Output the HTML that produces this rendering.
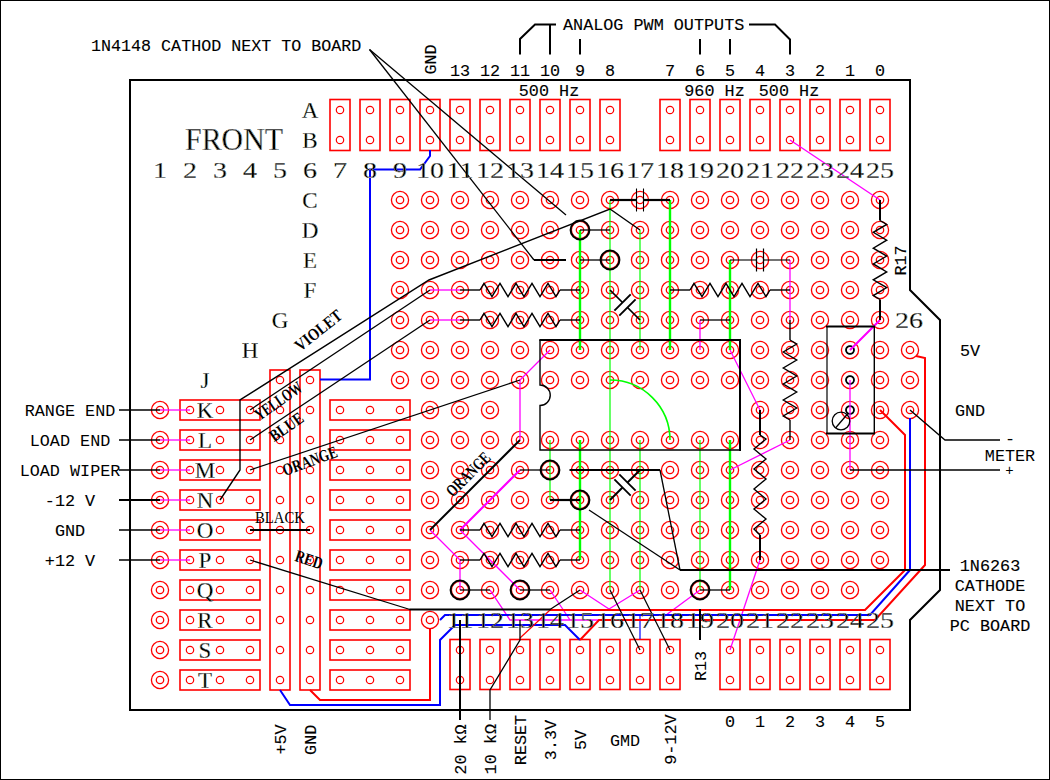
<!DOCTYPE html>
<html><head><meta charset="utf-8"><style>
html,body{margin:0;padding:0;background:#fff;overflow:hidden;}
svg{display:block;}
.p{fill:none;stroke:#ff0000;stroke-width:1.3;}
.s{fill:none;stroke:#ff0000;stroke-width:1.2;}
.hr{fill:none;stroke:#ff0000;stroke-width:1.6;}
text{fill:#000;}

</style></head><body>
<svg width="1050" height="780" viewBox="0 0 1050 780">
<rect x="0.5" y="0.5" width="1049" height="779" fill="#fff" stroke="#000" stroke-width="1"/>
<defs><clipPath id="tc"><text x="185" y="150" font-family="Liberation Serif" font-size="32" text-anchor="start" textLength="98" lengthAdjust="spacingAndGlyphs">FRONT</text>
<text x="310" y="118" font-family="Liberation Serif" font-size="23" text-anchor="middle">A</text>
<text x="310" y="148" font-family="Liberation Serif" font-size="23" text-anchor="middle">B</text>
<text x="310" y="208" font-family="Liberation Serif" font-size="23" text-anchor="middle">C</text>
<text x="310" y="238" font-family="Liberation Serif" font-size="23" text-anchor="middle">D</text>
<text x="310" y="268" font-family="Liberation Serif" font-size="23" text-anchor="middle">E</text>
<text x="310" y="298" font-family="Liberation Serif" font-size="23" text-anchor="middle">F</text>
<text x="280" y="328" font-family="Liberation Serif" font-size="23" text-anchor="middle">G</text>
<text x="250" y="358" font-family="Liberation Serif" font-size="23" text-anchor="middle">H</text>
<text x="205" y="388" font-family="Liberation Serif" font-size="23" text-anchor="middle">J</text>
<text x="205" y="418" font-family="Liberation Serif" font-size="23" text-anchor="middle">K</text>
<text x="205" y="448" font-family="Liberation Serif" font-size="23" text-anchor="middle">L</text>
<text x="205" y="478" font-family="Liberation Serif" font-size="23" text-anchor="middle">M</text>
<text x="205" y="508" font-family="Liberation Serif" font-size="23" text-anchor="middle">N</text>
<text x="205" y="538" font-family="Liberation Serif" font-size="23" text-anchor="middle">O</text>
<text x="205" y="568" font-family="Liberation Serif" font-size="23" text-anchor="middle">P</text>
<text x="205" y="598" font-family="Liberation Serif" font-size="23" text-anchor="middle">Q</text>
<text x="205" y="628" font-family="Liberation Serif" font-size="23" text-anchor="middle">R</text>
<text x="205" y="658" font-family="Liberation Serif" font-size="23" text-anchor="middle">S</text>
<text x="205" y="688" font-family="Liberation Serif" font-size="23" text-anchor="middle">T</text>
<text transform="translate(160 178) scale(1.17 1)" x="0" y="0" font-family="Liberation Serif" font-size="24" text-anchor="middle">1</text>
<text transform="translate(190 178) scale(1.17 1)" x="0" y="0" font-family="Liberation Serif" font-size="24" text-anchor="middle">2</text>
<text transform="translate(220 178) scale(1.17 1)" x="0" y="0" font-family="Liberation Serif" font-size="24" text-anchor="middle">3</text>
<text transform="translate(250 178) scale(1.17 1)" x="0" y="0" font-family="Liberation Serif" font-size="24" text-anchor="middle">4</text>
<text transform="translate(280 178) scale(1.17 1)" x="0" y="0" font-family="Liberation Serif" font-size="24" text-anchor="middle">5</text>
<text transform="translate(310 178) scale(1.17 1)" x="0" y="0" font-family="Liberation Serif" font-size="24" text-anchor="middle">6</text>
<text transform="translate(340 178) scale(1.17 1)" x="0" y="0" font-family="Liberation Serif" font-size="24" text-anchor="middle">7</text>
<text transform="translate(370 178) scale(1.17 1)" x="0" y="0" font-family="Liberation Serif" font-size="24" text-anchor="middle">8</text>
<text transform="translate(400 178) scale(1.17 1)" x="0" y="0" font-family="Liberation Serif" font-size="24" text-anchor="middle">9</text>
<text transform="translate(430 178) scale(1.17 1)" x="0" y="0" font-family="Liberation Serif" font-size="24" text-anchor="middle">10</text>
<text transform="translate(460 178) scale(1.17 1)" x="0" y="0" font-family="Liberation Serif" font-size="24" text-anchor="middle">11</text>
<text transform="translate(490 178) scale(1.17 1)" x="0" y="0" font-family="Liberation Serif" font-size="24" text-anchor="middle">12</text>
<text transform="translate(520 178) scale(1.17 1)" x="0" y="0" font-family="Liberation Serif" font-size="24" text-anchor="middle">13</text>
<text transform="translate(550 178) scale(1.17 1)" x="0" y="0" font-family="Liberation Serif" font-size="24" text-anchor="middle">14</text>
<text transform="translate(580 178) scale(1.17 1)" x="0" y="0" font-family="Liberation Serif" font-size="24" text-anchor="middle">15</text>
<text transform="translate(610 178) scale(1.17 1)" x="0" y="0" font-family="Liberation Serif" font-size="24" text-anchor="middle">16</text>
<text transform="translate(640 178) scale(1.17 1)" x="0" y="0" font-family="Liberation Serif" font-size="24" text-anchor="middle">17</text>
<text transform="translate(670 178) scale(1.17 1)" x="0" y="0" font-family="Liberation Serif" font-size="24" text-anchor="middle">18</text>
<text transform="translate(700 178) scale(1.17 1)" x="0" y="0" font-family="Liberation Serif" font-size="24" text-anchor="middle">19</text>
<text transform="translate(730 178) scale(1.17 1)" x="0" y="0" font-family="Liberation Serif" font-size="24" text-anchor="middle">20</text>
<text transform="translate(760 178) scale(1.17 1)" x="0" y="0" font-family="Liberation Serif" font-size="24" text-anchor="middle">21</text>
<text transform="translate(790 178) scale(1.17 1)" x="0" y="0" font-family="Liberation Serif" font-size="24" text-anchor="middle">22</text>
<text transform="translate(820 178) scale(1.17 1)" x="0" y="0" font-family="Liberation Serif" font-size="24" text-anchor="middle">23</text>
<text transform="translate(850 178) scale(1.17 1)" x="0" y="0" font-family="Liberation Serif" font-size="24" text-anchor="middle">24</text>
<text transform="translate(880 178) scale(1.17 1)" x="0" y="0" font-family="Liberation Serif" font-size="24" text-anchor="middle">25</text>
<text transform="translate(460 628) scale(1.17 1)" x="0" y="0" font-family="Liberation Serif" font-size="24" text-anchor="middle">11</text>
<text transform="translate(490 628) scale(1.17 1)" x="0" y="0" font-family="Liberation Serif" font-size="24" text-anchor="middle">12</text>
<text transform="translate(520 628) scale(1.17 1)" x="0" y="0" font-family="Liberation Serif" font-size="24" text-anchor="middle">13</text>
<text transform="translate(550 628) scale(1.17 1)" x="0" y="0" font-family="Liberation Serif" font-size="24" text-anchor="middle">14</text>
<text transform="translate(580 628) scale(1.17 1)" x="0" y="0" font-family="Liberation Serif" font-size="24" text-anchor="middle">15</text>
<text transform="translate(610 628) scale(1.17 1)" x="0" y="0" font-family="Liberation Serif" font-size="24" text-anchor="middle">16</text>
<text transform="translate(640 628) scale(1.17 1)" x="0" y="0" font-family="Liberation Serif" font-size="24" text-anchor="middle">17</text>
<text transform="translate(670 628) scale(1.17 1)" x="0" y="0" font-family="Liberation Serif" font-size="24" text-anchor="middle">18</text>
<text transform="translate(700 628) scale(1.17 1)" x="0" y="0" font-family="Liberation Serif" font-size="24" text-anchor="middle">19</text>
<text transform="translate(730 628) scale(1.17 1)" x="0" y="0" font-family="Liberation Serif" font-size="24" text-anchor="middle">20</text>
<text transform="translate(760 628) scale(1.17 1)" x="0" y="0" font-family="Liberation Serif" font-size="24" text-anchor="middle">21</text>
<text transform="translate(790 628) scale(1.17 1)" x="0" y="0" font-family="Liberation Serif" font-size="24" text-anchor="middle">22</text>
<text transform="translate(820 628) scale(1.17 1)" x="0" y="0" font-family="Liberation Serif" font-size="24" text-anchor="middle">23</text>
<text transform="translate(850 628) scale(1.17 1)" x="0" y="0" font-family="Liberation Serif" font-size="24" text-anchor="middle">24</text>
<text transform="translate(880 628) scale(1.17 1)" x="0" y="0" font-family="Liberation Serif" font-size="24" text-anchor="middle">25</text>
<text transform="translate(909 327.5) scale(1.17 1)" x="0" y="0" font-family="Liberation Serif" font-size="24" text-anchor="middle">26</text></clipPath></defs>
<g id="pads">
<circle cx="400" cy="200" r="8.6" class="p"/><circle cx="400" cy="200" r="3.7" class="p" style="stroke:#ff0000"/>
<circle cx="430" cy="200" r="8.6" class="p"/><circle cx="430" cy="200" r="3.7" class="p" style="stroke:#ff0000"/>
<circle cx="460" cy="200" r="8.6" class="p"/><circle cx="460" cy="200" r="3.7" class="p" style="stroke:#ff0000"/>
<circle cx="490" cy="200" r="8.6" class="p"/><circle cx="490" cy="200" r="3.7" class="p" style="stroke:#ff0000"/>
<circle cx="520" cy="200" r="8.6" class="p"/><circle cx="520" cy="200" r="3.7" class="p" style="stroke:#ff0000"/>
<circle cx="550" cy="200" r="8.6" class="p"/><circle cx="550" cy="200" r="3.7" class="p" style="stroke:#ff0000"/>
<circle cx="580" cy="200" r="8.6" class="p"/><circle cx="580" cy="200" r="3.7" class="p" style="stroke:#ff0000"/>
<circle cx="610" cy="200" r="8.6" class="p"/><circle cx="610" cy="200" r="3.7" class="p" style="stroke:#ff0000"/>
<circle cx="640" cy="200" r="8.6" class="p"/><circle cx="640" cy="200" r="3.7" class="p" style="stroke:#ff0000"/>
<circle cx="670" cy="200" r="8.6" class="p"/><circle cx="670" cy="200" r="3.7" class="p" style="stroke:#ff0000"/>
<circle cx="700" cy="200" r="8.6" class="p"/><circle cx="700" cy="200" r="3.7" class="p" style="stroke:#ff0000"/>
<circle cx="730" cy="200" r="8.6" class="p"/><circle cx="730" cy="200" r="3.7" class="p" style="stroke:#ff0000"/>
<circle cx="760" cy="200" r="8.6" class="p"/><circle cx="760" cy="200" r="3.7" class="p" style="stroke:#ff0000"/>
<circle cx="790" cy="200" r="8.6" class="p"/><circle cx="790" cy="200" r="3.7" class="p" style="stroke:#ff0000"/>
<circle cx="820" cy="200" r="8.6" class="p"/><circle cx="820" cy="200" r="3.7" class="p" style="stroke:#ff0000"/>
<circle cx="850" cy="200" r="8.6" class="p"/><circle cx="850" cy="200" r="3.7" class="p" style="stroke:#ff0000"/>
<circle cx="880" cy="200" r="8.6" class="p"/><circle cx="880" cy="200" r="3.7" class="p" style="stroke:#ff0000"/>
<circle cx="400" cy="230" r="8.6" class="p"/><circle cx="400" cy="230" r="3.7" class="p" style="stroke:#ff0000"/>
<circle cx="430" cy="230" r="8.6" class="p"/><circle cx="430" cy="230" r="3.7" class="p" style="stroke:#ff0000"/>
<circle cx="460" cy="230" r="8.6" class="p"/><circle cx="460" cy="230" r="3.7" class="p" style="stroke:#ff0000"/>
<circle cx="490" cy="230" r="8.6" class="p"/><circle cx="490" cy="230" r="3.7" class="p" style="stroke:#ff0000"/>
<circle cx="520" cy="230" r="8.6" class="p"/><circle cx="520" cy="230" r="3.7" class="p" style="stroke:#ff0000"/>
<circle cx="550" cy="230" r="8.6" class="p"/><circle cx="550" cy="230" r="3.7" class="p" style="stroke:#ff0000"/>
<circle cx="580" cy="230" r="8.6" class="p"/><circle cx="580" cy="230" r="3.7" class="p" style="stroke:#ff0000"/>
<circle cx="610" cy="230" r="8.6" class="p"/><circle cx="610" cy="230" r="3.7" class="p" style="stroke:#ff0000"/>
<circle cx="640" cy="230" r="8.6" class="p"/><circle cx="640" cy="230" r="3.7" class="p" style="stroke:#ff0000"/>
<circle cx="670" cy="230" r="8.6" class="p"/><circle cx="670" cy="230" r="3.7" class="p" style="stroke:#ff0000"/>
<circle cx="700" cy="230" r="8.6" class="p"/><circle cx="700" cy="230" r="3.7" class="p" style="stroke:#ff0000"/>
<circle cx="730" cy="230" r="8.6" class="p"/><circle cx="730" cy="230" r="3.7" class="p" style="stroke:#ff0000"/>
<circle cx="760" cy="230" r="8.6" class="p"/><circle cx="760" cy="230" r="3.7" class="p" style="stroke:#ff0000"/>
<circle cx="790" cy="230" r="8.6" class="p"/><circle cx="790" cy="230" r="3.7" class="p" style="stroke:#ff0000"/>
<circle cx="820" cy="230" r="8.6" class="p"/><circle cx="820" cy="230" r="3.7" class="p" style="stroke:#ff0000"/>
<circle cx="850" cy="230" r="8.6" class="p"/><circle cx="850" cy="230" r="3.7" class="p" style="stroke:#ff0000"/>
<circle cx="880" cy="230" r="8.6" class="p"/><circle cx="880" cy="230" r="3.7" class="p" style="stroke:#ff0000"/>
<circle cx="400" cy="260" r="8.6" class="p"/><circle cx="400" cy="260" r="3.7" class="p" style="stroke:#ff0000"/>
<circle cx="430" cy="260" r="8.6" class="p"/><circle cx="430" cy="260" r="3.7" class="p" style="stroke:#ff0000"/>
<circle cx="460" cy="260" r="8.6" class="p"/><circle cx="460" cy="260" r="3.7" class="p" style="stroke:#ff0000"/>
<circle cx="490" cy="260" r="8.6" class="p"/><circle cx="490" cy="260" r="3.7" class="p" style="stroke:#ff0000"/>
<circle cx="520" cy="260" r="8.6" class="p"/><circle cx="520" cy="260" r="3.7" class="p" style="stroke:#ff0000"/>
<circle cx="550" cy="260" r="8.6" class="p"/><circle cx="550" cy="260" r="3.7" class="p" style="stroke:#ff0000"/>
<circle cx="580" cy="260" r="8.6" class="p"/><circle cx="580" cy="260" r="3.7" class="p" style="stroke:#ff0000"/>
<circle cx="610" cy="260" r="8.6" class="p"/><circle cx="610" cy="260" r="3.7" class="p" style="stroke:#ff0000"/>
<circle cx="640" cy="260" r="8.6" class="p"/><circle cx="640" cy="260" r="3.7" class="p" style="stroke:#ff0000"/>
<circle cx="670" cy="260" r="8.6" class="p"/><circle cx="670" cy="260" r="3.7" class="p" style="stroke:#ff0000"/>
<circle cx="700" cy="260" r="8.6" class="p"/><circle cx="700" cy="260" r="3.7" class="p" style="stroke:#ff0000"/>
<circle cx="730" cy="260" r="8.6" class="p"/><circle cx="730" cy="260" r="3.7" class="p" style="stroke:#ff0000"/>
<circle cx="760" cy="260" r="8.6" class="p"/><circle cx="760" cy="260" r="3.7" class="p" style="stroke:#ff0000"/>
<circle cx="790" cy="260" r="8.6" class="p"/><circle cx="790" cy="260" r="3.7" class="p" style="stroke:#ff0000"/>
<circle cx="820" cy="260" r="8.6" class="p"/><circle cx="820" cy="260" r="3.7" class="p" style="stroke:#ff0000"/>
<circle cx="850" cy="260" r="8.6" class="p"/><circle cx="850" cy="260" r="3.7" class="p" style="stroke:#ff0000"/>
<circle cx="880" cy="260" r="8.6" class="p"/><circle cx="880" cy="260" r="3.7" class="p" style="stroke:#ff0000"/>
<circle cx="400" cy="290" r="8.6" class="p"/><circle cx="400" cy="290" r="3.7" class="p" style="stroke:#ff0000"/>
<circle cx="430" cy="290" r="8.6" class="p"/><circle cx="430" cy="290" r="3.7" class="p" style="stroke:#ff0000"/>
<circle cx="460" cy="290" r="8.6" class="p"/><circle cx="460" cy="290" r="3.7" class="p" style="stroke:#ff0000"/>
<circle cx="490" cy="290" r="8.6" class="p"/><circle cx="490" cy="290" r="3.7" class="p" style="stroke:#ff0000"/>
<circle cx="520" cy="290" r="8.6" class="p"/><circle cx="520" cy="290" r="3.7" class="p" style="stroke:#ff0000"/>
<circle cx="550" cy="290" r="8.6" class="p"/><circle cx="550" cy="290" r="3.7" class="p" style="stroke:#ff0000"/>
<circle cx="580" cy="290" r="8.6" class="p"/><circle cx="580" cy="290" r="3.7" class="p" style="stroke:#ff0000"/>
<circle cx="610" cy="290" r="8.6" class="p"/><circle cx="610" cy="290" r="3.7" class="p" style="stroke:#ff0000"/>
<circle cx="640" cy="290" r="8.6" class="p"/><circle cx="640" cy="290" r="3.7" class="p" style="stroke:#ff0000"/>
<circle cx="670" cy="290" r="8.6" class="p"/><circle cx="670" cy="290" r="3.7" class="p" style="stroke:#ff0000"/>
<circle cx="700" cy="290" r="8.6" class="p"/><circle cx="700" cy="290" r="3.7" class="p" style="stroke:#ff0000"/>
<circle cx="730" cy="290" r="8.6" class="p"/><circle cx="730" cy="290" r="3.7" class="p" style="stroke:#ff0000"/>
<circle cx="760" cy="290" r="8.6" class="p"/><circle cx="760" cy="290" r="3.7" class="p" style="stroke:#ff0000"/>
<circle cx="790" cy="290" r="8.6" class="p"/><circle cx="790" cy="290" r="3.7" class="p" style="stroke:#ff0000"/>
<circle cx="820" cy="290" r="8.6" class="p"/><circle cx="820" cy="290" r="3.7" class="p" style="stroke:#ff0000"/>
<circle cx="850" cy="290" r="8.6" class="p"/><circle cx="850" cy="290" r="3.7" class="p" style="stroke:#ff0000"/>
<circle cx="880" cy="290" r="8.6" class="p"/><circle cx="880" cy="290" r="3.7" class="p" style="stroke:#ff0000"/>
<circle cx="400" cy="320" r="8.6" class="p"/><circle cx="400" cy="320" r="3.7" class="p" style="stroke:#ff0000"/>
<circle cx="430" cy="320" r="8.6" class="p"/><circle cx="430" cy="320" r="3.7" class="p" style="stroke:#ff0000"/>
<circle cx="460" cy="320" r="8.6" class="p"/><circle cx="460" cy="320" r="3.7" class="p" style="stroke:#ff0000"/>
<circle cx="490" cy="320" r="8.6" class="p"/><circle cx="490" cy="320" r="3.7" class="p" style="stroke:#ff0000"/>
<circle cx="520" cy="320" r="8.6" class="p"/><circle cx="520" cy="320" r="3.7" class="p" style="stroke:#ff0000"/>
<circle cx="550" cy="320" r="8.6" class="p"/><circle cx="550" cy="320" r="3.7" class="p" style="stroke:#ff0000"/>
<circle cx="580" cy="320" r="8.6" class="p"/><circle cx="580" cy="320" r="3.7" class="p" style="stroke:#ff0000"/>
<circle cx="610" cy="320" r="8.6" class="p"/><circle cx="610" cy="320" r="3.7" class="p" style="stroke:#ff0000"/>
<circle cx="640" cy="320" r="8.6" class="p"/><circle cx="640" cy="320" r="3.7" class="p" style="stroke:#ff0000"/>
<circle cx="670" cy="320" r="8.6" class="p"/><circle cx="670" cy="320" r="3.7" class="p" style="stroke:#ff0000"/>
<circle cx="700" cy="320" r="8.6" class="p"/><circle cx="700" cy="320" r="3.7" class="p" style="stroke:#ff0000"/>
<circle cx="730" cy="320" r="8.6" class="p"/><circle cx="730" cy="320" r="3.7" class="p" style="stroke:#ff0000"/>
<circle cx="760" cy="320" r="8.6" class="p"/><circle cx="760" cy="320" r="3.7" class="p" style="stroke:#ff0000"/>
<circle cx="790" cy="320" r="8.6" class="p"/><circle cx="790" cy="320" r="3.7" class="p" style="stroke:#ff0000"/>
<circle cx="820" cy="320" r="8.6" class="p"/><circle cx="820" cy="320" r="3.7" class="p" style="stroke:#ff0000"/>
<circle cx="850" cy="320" r="8.6" class="p"/><circle cx="850" cy="320" r="3.7" class="p" style="stroke:#ff0000"/>
<circle cx="880" cy="320" r="8.6" class="p"/><circle cx="880" cy="320" r="3.7" class="p" style="stroke:#ff0000"/>
<circle cx="400" cy="350" r="8.6" class="p"/><circle cx="400" cy="350" r="3.7" class="p" style="stroke:#ff0000"/>
<circle cx="430" cy="350" r="8.6" class="p"/><circle cx="430" cy="350" r="3.7" class="p" style="stroke:#ff0000"/>
<circle cx="460" cy="350" r="8.6" class="p"/><circle cx="460" cy="350" r="3.7" class="p" style="stroke:#ff0000"/>
<circle cx="490" cy="350" r="8.6" class="p"/><circle cx="490" cy="350" r="3.7" class="p" style="stroke:#ff0000"/>
<circle cx="520" cy="350" r="8.6" class="p"/><circle cx="520" cy="350" r="3.7" class="p" style="stroke:#ff0000"/>
<circle cx="550" cy="350" r="8.6" class="p"/><circle cx="550" cy="350" r="3.7" class="p" style="stroke:#ff0000"/>
<circle cx="580" cy="350" r="8.6" class="p"/><circle cx="580" cy="350" r="3.7" class="p" style="stroke:#ff0000"/>
<circle cx="610" cy="350" r="8.6" class="p"/><circle cx="610" cy="350" r="3.7" class="p" style="stroke:#ff0000"/>
<circle cx="640" cy="350" r="8.6" class="p"/><circle cx="640" cy="350" r="3.7" class="p" style="stroke:#ff0000"/>
<circle cx="670" cy="350" r="8.6" class="p"/><circle cx="670" cy="350" r="3.7" class="p" style="stroke:#ff0000"/>
<circle cx="700" cy="350" r="8.6" class="p"/><circle cx="700" cy="350" r="3.7" class="p" style="stroke:#ff0000"/>
<circle cx="730" cy="350" r="8.6" class="p"/><circle cx="730" cy="350" r="3.7" class="p" style="stroke:#ff0000"/>
<circle cx="760" cy="350" r="8.6" class="p"/><circle cx="760" cy="350" r="3.7" class="p" style="stroke:#ff0000"/>
<circle cx="790" cy="350" r="8.6" class="p"/><circle cx="790" cy="350" r="3.7" class="p" style="stroke:#ff0000"/>
<circle cx="820" cy="350" r="8.6" class="p"/><circle cx="820" cy="350" r="3.7" class="p" style="stroke:#ff0000"/>
<circle cx="850" cy="350" r="8.6" class="p"/><circle cx="850" cy="350" r="3.7" class="p" style="stroke:#000000"/>
<circle cx="850" cy="350" r="4.1" fill="none" stroke="#000" stroke-width="1.5"/>
<circle cx="880" cy="350" r="8.6" class="p"/><circle cx="880" cy="350" r="3.7" class="p" style="stroke:#ff0000"/>
<circle cx="910" cy="350" r="8.6" class="p"/><circle cx="910" cy="350" r="3.7" class="p" style="stroke:#ff0000"/>
<circle cx="400" cy="380" r="8.6" class="p"/><circle cx="400" cy="380" r="3.7" class="p" style="stroke:#ff0000"/>
<circle cx="430" cy="380" r="8.6" class="p"/><circle cx="430" cy="380" r="3.7" class="p" style="stroke:#ff0000"/>
<circle cx="460" cy="380" r="8.6" class="p"/><circle cx="460" cy="380" r="3.7" class="p" style="stroke:#ff0000"/>
<circle cx="490" cy="380" r="8.6" class="p"/><circle cx="490" cy="380" r="3.7" class="p" style="stroke:#ff0000"/>
<circle cx="520" cy="380" r="8.6" class="p"/><circle cx="520" cy="380" r="3.7" class="p" style="stroke:#ff0000"/>
<circle cx="550" cy="380" r="8.6" class="p"/><circle cx="550" cy="380" r="3.7" class="p" style="stroke:#ff0000"/>
<circle cx="580" cy="380" r="8.6" class="p"/><circle cx="580" cy="380" r="3.7" class="p" style="stroke:#ff0000"/>
<circle cx="610" cy="380" r="8.6" class="p"/><circle cx="610" cy="380" r="3.7" class="p" style="stroke:#ff0000"/>
<circle cx="640" cy="380" r="8.6" class="p"/><circle cx="640" cy="380" r="3.7" class="p" style="stroke:#ff0000"/>
<circle cx="670" cy="380" r="8.6" class="p"/><circle cx="670" cy="380" r="3.7" class="p" style="stroke:#ff0000"/>
<circle cx="700" cy="380" r="8.6" class="p"/><circle cx="700" cy="380" r="3.7" class="p" style="stroke:#ff0000"/>
<circle cx="730" cy="380" r="8.6" class="p"/><circle cx="730" cy="380" r="3.7" class="p" style="stroke:#ff0000"/>
<circle cx="760" cy="380" r="8.6" class="p"/><circle cx="760" cy="380" r="3.7" class="p" style="stroke:#ff0000"/>
<circle cx="790" cy="380" r="8.6" class="p"/><circle cx="790" cy="380" r="3.7" class="p" style="stroke:#ff0000"/>
<circle cx="820" cy="380" r="8.6" class="p"/><circle cx="820" cy="380" r="3.7" class="p" style="stroke:#ff0000"/>
<circle cx="850" cy="380" r="8.6" class="p"/><circle cx="850" cy="380" r="3.7" class="p" style="stroke:#000000"/>
<circle cx="850" cy="380" r="4.1" fill="none" stroke="#000" stroke-width="1.5"/>
<circle cx="880" cy="380" r="8.6" class="p"/><circle cx="880" cy="380" r="3.7" class="p" style="stroke:#ff0000"/>
<circle cx="910" cy="380" r="8.6" class="p"/><circle cx="910" cy="380" r="3.7" class="p" style="stroke:#ff0000"/>
<circle cx="430" cy="410" r="8.6" class="p"/><circle cx="430" cy="410" r="3.7" class="p" style="stroke:#ff0000"/>
<circle cx="460" cy="410" r="8.6" class="p"/><circle cx="460" cy="410" r="3.7" class="p" style="stroke:#ff0000"/>
<circle cx="490" cy="410" r="8.6" class="p"/><circle cx="490" cy="410" r="3.7" class="p" style="stroke:#ff0000"/>
<circle cx="760" cy="410" r="8.6" class="p"/><circle cx="760" cy="410" r="3.7" class="p" style="stroke:#ff0000"/>
<circle cx="790" cy="410" r="8.6" class="p"/><circle cx="790" cy="410" r="3.7" class="p" style="stroke:#ff0000"/>
<circle cx="820" cy="410" r="8.6" class="p"/><circle cx="820" cy="410" r="3.7" class="p" style="stroke:#ff0000"/>
<circle cx="850" cy="410" r="8.6" class="p"/><circle cx="850" cy="410" r="3.7" class="p" style="stroke:#000000"/>
<circle cx="850" cy="410" r="4.1" fill="none" stroke="#000" stroke-width="1.5"/>
<circle cx="880" cy="410" r="8.6" class="p"/><circle cx="880" cy="410" r="3.7" class="p" style="stroke:#ff0000"/>
<circle cx="910" cy="410" r="8.6" class="p"/><circle cx="910" cy="410" r="3.7" class="p" style="stroke:#ff0000"/>
<circle cx="430" cy="440" r="8.6" class="p"/><circle cx="430" cy="440" r="3.7" class="p" style="stroke:#ff0000"/>
<circle cx="460" cy="440" r="8.6" class="p"/><circle cx="460" cy="440" r="3.7" class="p" style="stroke:#ff0000"/>
<circle cx="490" cy="440" r="8.6" class="p"/><circle cx="490" cy="440" r="3.7" class="p" style="stroke:#ff0000"/>
<circle cx="520" cy="440" r="8.6" class="p"/><circle cx="520" cy="440" r="3.7" class="p" style="stroke:#ff0000"/>
<circle cx="550" cy="440" r="8.6" class="p"/><circle cx="550" cy="440" r="3.7" class="p" style="stroke:#ff0000"/>
<circle cx="580" cy="440" r="8.6" class="p"/><circle cx="580" cy="440" r="3.7" class="p" style="stroke:#ff0000"/>
<circle cx="610" cy="440" r="8.6" class="p"/><circle cx="610" cy="440" r="3.7" class="p" style="stroke:#ff0000"/>
<circle cx="640" cy="440" r="8.6" class="p"/><circle cx="640" cy="440" r="3.7" class="p" style="stroke:#ff0000"/>
<circle cx="670" cy="440" r="8.6" class="p"/><circle cx="670" cy="440" r="3.7" class="p" style="stroke:#ff0000"/>
<circle cx="700" cy="440" r="8.6" class="p"/><circle cx="700" cy="440" r="3.7" class="p" style="stroke:#ff0000"/>
<circle cx="730" cy="440" r="8.6" class="p"/><circle cx="730" cy="440" r="3.7" class="p" style="stroke:#ff0000"/>
<circle cx="760" cy="440" r="8.6" class="p"/><circle cx="760" cy="440" r="3.7" class="p" style="stroke:#ff0000"/>
<circle cx="790" cy="440" r="8.6" class="p"/><circle cx="790" cy="440" r="3.7" class="p" style="stroke:#ff0000"/>
<circle cx="820" cy="440" r="8.6" class="p"/><circle cx="820" cy="440" r="3.7" class="p" style="stroke:#ff0000"/>
<circle cx="850" cy="440" r="8.6" class="p"/><circle cx="850" cy="440" r="3.7" class="p" style="stroke:#ff0000"/>
<circle cx="880" cy="440" r="8.6" class="p"/><circle cx="880" cy="440" r="3.7" class="p" style="stroke:#ff0000"/>
<circle cx="430" cy="470" r="8.6" class="p"/><circle cx="430" cy="470" r="3.7" class="p" style="stroke:#ff0000"/>
<circle cx="460" cy="470" r="8.6" class="p"/><circle cx="460" cy="470" r="3.7" class="p" style="stroke:#ff0000"/>
<circle cx="490" cy="470" r="8.6" class="p"/><circle cx="490" cy="470" r="3.7" class="p" style="stroke:#ff0000"/>
<circle cx="520" cy="470" r="8.6" class="p"/><circle cx="520" cy="470" r="3.7" class="p" style="stroke:#ff0000"/>
<circle cx="550" cy="470" r="8.6" class="p"/><circle cx="550" cy="470" r="3.7" class="p" style="stroke:#ff0000"/>
<circle cx="580" cy="470" r="8.6" class="p"/><circle cx="580" cy="470" r="3.7" class="p" style="stroke:#ff0000"/>
<circle cx="610" cy="470" r="8.6" class="p"/><circle cx="610" cy="470" r="3.7" class="p" style="stroke:#ff0000"/>
<circle cx="640" cy="470" r="8.6" class="p"/><circle cx="640" cy="470" r="3.7" class="p" style="stroke:#ff0000"/>
<circle cx="670" cy="470" r="8.6" class="p"/><circle cx="670" cy="470" r="3.7" class="p" style="stroke:#ff0000"/>
<circle cx="700" cy="470" r="8.6" class="p"/><circle cx="700" cy="470" r="3.7" class="p" style="stroke:#ff0000"/>
<circle cx="730" cy="470" r="8.6" class="p"/><circle cx="730" cy="470" r="3.7" class="p" style="stroke:#ff0000"/>
<circle cx="760" cy="470" r="8.6" class="p"/><circle cx="760" cy="470" r="3.7" class="p" style="stroke:#ff0000"/>
<circle cx="790" cy="470" r="8.6" class="p"/><circle cx="790" cy="470" r="3.7" class="p" style="stroke:#ff0000"/>
<circle cx="820" cy="470" r="8.6" class="p"/><circle cx="820" cy="470" r="3.7" class="p" style="stroke:#ff0000"/>
<circle cx="850" cy="470" r="8.6" class="p"/><circle cx="850" cy="470" r="3.7" class="p" style="stroke:#ff0000"/>
<circle cx="880" cy="470" r="8.6" class="p"/><circle cx="880" cy="470" r="3.7" class="p" style="stroke:#ff0000"/>
<circle cx="430" cy="500" r="8.6" class="p"/><circle cx="430" cy="500" r="3.7" class="p" style="stroke:#ff0000"/>
<circle cx="460" cy="500" r="8.6" class="p"/><circle cx="460" cy="500" r="3.7" class="p" style="stroke:#ff0000"/>
<circle cx="490" cy="500" r="8.6" class="p"/><circle cx="490" cy="500" r="3.7" class="p" style="stroke:#ff0000"/>
<circle cx="520" cy="500" r="8.6" class="p"/><circle cx="520" cy="500" r="3.7" class="p" style="stroke:#ff0000"/>
<circle cx="550" cy="500" r="8.6" class="p"/><circle cx="550" cy="500" r="3.7" class="p" style="stroke:#ff0000"/>
<circle cx="580" cy="500" r="8.6" class="p"/><circle cx="580" cy="500" r="3.7" class="p" style="stroke:#ff0000"/>
<circle cx="610" cy="500" r="8.6" class="p"/><circle cx="610" cy="500" r="3.7" class="p" style="stroke:#ff0000"/>
<circle cx="640" cy="500" r="8.6" class="p"/><circle cx="640" cy="500" r="3.7" class="p" style="stroke:#ff0000"/>
<circle cx="670" cy="500" r="8.6" class="p"/><circle cx="670" cy="500" r="3.7" class="p" style="stroke:#ff0000"/>
<circle cx="700" cy="500" r="8.6" class="p"/><circle cx="700" cy="500" r="3.7" class="p" style="stroke:#ff0000"/>
<circle cx="730" cy="500" r="8.6" class="p"/><circle cx="730" cy="500" r="3.7" class="p" style="stroke:#ff0000"/>
<circle cx="760" cy="500" r="8.6" class="p"/><circle cx="760" cy="500" r="3.7" class="p" style="stroke:#ff0000"/>
<circle cx="790" cy="500" r="8.6" class="p"/><circle cx="790" cy="500" r="3.7" class="p" style="stroke:#ff0000"/>
<circle cx="820" cy="500" r="8.6" class="p"/><circle cx="820" cy="500" r="3.7" class="p" style="stroke:#ff0000"/>
<circle cx="850" cy="500" r="8.6" class="p"/><circle cx="850" cy="500" r="3.7" class="p" style="stroke:#ff0000"/>
<circle cx="880" cy="500" r="8.6" class="p"/><circle cx="880" cy="500" r="3.7" class="p" style="stroke:#ff0000"/>
<circle cx="430" cy="530" r="8.6" class="p"/><circle cx="430" cy="530" r="3.7" class="p" style="stroke:#ff0000"/>
<circle cx="460" cy="530" r="8.6" class="p"/><circle cx="460" cy="530" r="3.7" class="p" style="stroke:#ff0000"/>
<circle cx="490" cy="530" r="8.6" class="p"/><circle cx="490" cy="530" r="3.7" class="p" style="stroke:#ff0000"/>
<circle cx="520" cy="530" r="8.6" class="p"/><circle cx="520" cy="530" r="3.7" class="p" style="stroke:#ff0000"/>
<circle cx="550" cy="530" r="8.6" class="p"/><circle cx="550" cy="530" r="3.7" class="p" style="stroke:#ff0000"/>
<circle cx="580" cy="530" r="8.6" class="p"/><circle cx="580" cy="530" r="3.7" class="p" style="stroke:#ff0000"/>
<circle cx="610" cy="530" r="8.6" class="p"/><circle cx="610" cy="530" r="3.7" class="p" style="stroke:#ff0000"/>
<circle cx="640" cy="530" r="8.6" class="p"/><circle cx="640" cy="530" r="3.7" class="p" style="stroke:#ff0000"/>
<circle cx="670" cy="530" r="8.6" class="p"/><circle cx="670" cy="530" r="3.7" class="p" style="stroke:#ff0000"/>
<circle cx="700" cy="530" r="8.6" class="p"/><circle cx="700" cy="530" r="3.7" class="p" style="stroke:#ff0000"/>
<circle cx="730" cy="530" r="8.6" class="p"/><circle cx="730" cy="530" r="3.7" class="p" style="stroke:#ff0000"/>
<circle cx="760" cy="530" r="8.6" class="p"/><circle cx="760" cy="530" r="3.7" class="p" style="stroke:#ff0000"/>
<circle cx="790" cy="530" r="8.6" class="p"/><circle cx="790" cy="530" r="3.7" class="p" style="stroke:#ff0000"/>
<circle cx="820" cy="530" r="8.6" class="p"/><circle cx="820" cy="530" r="3.7" class="p" style="stroke:#ff0000"/>
<circle cx="850" cy="530" r="8.6" class="p"/><circle cx="850" cy="530" r="3.7" class="p" style="stroke:#ff0000"/>
<circle cx="880" cy="530" r="8.6" class="p"/><circle cx="880" cy="530" r="3.7" class="p" style="stroke:#ff0000"/>
<circle cx="430" cy="560" r="8.6" class="p"/><circle cx="430" cy="560" r="3.7" class="p" style="stroke:#ff0000"/>
<circle cx="460" cy="560" r="8.6" class="p"/><circle cx="460" cy="560" r="3.7" class="p" style="stroke:#ff0000"/>
<circle cx="490" cy="560" r="8.6" class="p"/><circle cx="490" cy="560" r="3.7" class="p" style="stroke:#ff0000"/>
<circle cx="520" cy="560" r="8.6" class="p"/><circle cx="520" cy="560" r="3.7" class="p" style="stroke:#ff0000"/>
<circle cx="550" cy="560" r="8.6" class="p"/><circle cx="550" cy="560" r="3.7" class="p" style="stroke:#ff0000"/>
<circle cx="580" cy="560" r="8.6" class="p"/><circle cx="580" cy="560" r="3.7" class="p" style="stroke:#ff0000"/>
<circle cx="610" cy="560" r="8.6" class="p"/><circle cx="610" cy="560" r="3.7" class="p" style="stroke:#ff0000"/>
<circle cx="640" cy="560" r="8.6" class="p"/><circle cx="640" cy="560" r="3.7" class="p" style="stroke:#ff0000"/>
<circle cx="670" cy="560" r="8.6" class="p"/><circle cx="670" cy="560" r="3.7" class="p" style="stroke:#ff0000"/>
<circle cx="700" cy="560" r="8.6" class="p"/><circle cx="700" cy="560" r="3.7" class="p" style="stroke:#ff0000"/>
<circle cx="730" cy="560" r="8.6" class="p"/><circle cx="730" cy="560" r="3.7" class="p" style="stroke:#ff0000"/>
<circle cx="760" cy="560" r="8.6" class="p"/><circle cx="760" cy="560" r="3.7" class="p" style="stroke:#ff0000"/>
<circle cx="790" cy="560" r="8.6" class="p"/><circle cx="790" cy="560" r="3.7" class="p" style="stroke:#ff0000"/>
<circle cx="820" cy="560" r="8.6" class="p"/><circle cx="820" cy="560" r="3.7" class="p" style="stroke:#ff0000"/>
<circle cx="850" cy="560" r="8.6" class="p"/><circle cx="850" cy="560" r="3.7" class="p" style="stroke:#ff0000"/>
<circle cx="880" cy="560" r="8.6" class="p"/><circle cx="880" cy="560" r="3.7" class="p" style="stroke:#ff0000"/>
<circle cx="430" cy="590" r="8.6" class="p"/><circle cx="430" cy="590" r="3.7" class="p" style="stroke:#ff0000"/>
<circle cx="460" cy="590" r="8.6" class="p"/><circle cx="460" cy="590" r="3.7" class="p" style="stroke:#ff0000"/>
<circle cx="490" cy="590" r="8.6" class="p"/><circle cx="490" cy="590" r="3.7" class="p" style="stroke:#ff0000"/>
<circle cx="520" cy="590" r="8.6" class="p"/><circle cx="520" cy="590" r="3.7" class="p" style="stroke:#ff0000"/>
<circle cx="550" cy="590" r="8.6" class="p"/><circle cx="550" cy="590" r="3.7" class="p" style="stroke:#ff0000"/>
<circle cx="580" cy="590" r="8.6" class="p"/><circle cx="580" cy="590" r="3.7" class="p" style="stroke:#ff0000"/>
<circle cx="610" cy="590" r="8.6" class="p"/><circle cx="610" cy="590" r="3.7" class="p" style="stroke:#ff0000"/>
<circle cx="640" cy="590" r="8.6" class="p"/><circle cx="640" cy="590" r="3.7" class="p" style="stroke:#ff0000"/>
<circle cx="670" cy="590" r="8.6" class="p"/><circle cx="670" cy="590" r="3.7" class="p" style="stroke:#ff0000"/>
<circle cx="700" cy="590" r="8.6" class="p"/><circle cx="700" cy="590" r="3.7" class="p" style="stroke:#ff0000"/>
<circle cx="730" cy="590" r="8.6" class="p"/><circle cx="730" cy="590" r="3.7" class="p" style="stroke:#ff0000"/>
<circle cx="760" cy="590" r="8.6" class="p"/><circle cx="760" cy="590" r="3.7" class="p" style="stroke:#ff0000"/>
<circle cx="790" cy="590" r="8.6" class="p"/><circle cx="790" cy="590" r="3.7" class="p" style="stroke:#ff0000"/>
<circle cx="820" cy="590" r="8.6" class="p"/><circle cx="820" cy="590" r="3.7" class="p" style="stroke:#ff0000"/>
<circle cx="850" cy="590" r="8.6" class="p"/><circle cx="850" cy="590" r="3.7" class="p" style="stroke:#ff0000"/>
<circle cx="430" cy="620" r="8.6" class="p"/><circle cx="430" cy="620" r="3.7" class="p" style="stroke:#ff0000"/>
<circle cx="160" cy="410" r="8.6" class="p"/><circle cx="160" cy="410" r="3.7" class="p" style="stroke:#ff0000"/>
<circle cx="160" cy="440" r="8.6" class="p"/><circle cx="160" cy="440" r="3.7" class="p" style="stroke:#ff0000"/>
<circle cx="160" cy="470" r="8.6" class="p"/><circle cx="160" cy="470" r="3.7" class="p" style="stroke:#ff0000"/>
<circle cx="160" cy="500" r="8.6" class="p"/><circle cx="160" cy="500" r="3.7" class="p" style="stroke:#ff0000"/>
<circle cx="160" cy="530" r="8.6" class="p"/><circle cx="160" cy="530" r="3.7" class="p" style="stroke:#ff0000"/>
<circle cx="160" cy="560" r="8.6" class="p"/><circle cx="160" cy="560" r="3.7" class="p" style="stroke:#ff0000"/>
<circle cx="160" cy="590" r="8.6" class="p"/><circle cx="160" cy="590" r="3.7" class="p" style="stroke:#ff0000"/>
<circle cx="160" cy="620" r="8.6" class="p"/><circle cx="160" cy="620" r="3.7" class="p" style="stroke:#ff0000"/>
<circle cx="160" cy="650" r="8.6" class="p"/><circle cx="160" cy="650" r="3.7" class="p" style="stroke:#ff0000"/>
<circle cx="160" cy="680" r="8.6" class="p"/><circle cx="160" cy="680" r="3.7" class="p" style="stroke:#ff0000"/>
</g>
<g id="hdr">
<rect x="330" y="99.5" width="20" height="51" class="hr"/>
<circle cx="340" cy="110" r="3.7" class="s"/>
<circle cx="340" cy="140" r="3.7" class="s"/>
<rect x="360" y="99.5" width="20" height="51" class="hr"/>
<circle cx="370" cy="110" r="3.7" class="s"/>
<circle cx="370" cy="140" r="3.7" class="s"/>
<rect x="390" y="99.5" width="20" height="51" class="hr"/>
<circle cx="400" cy="110" r="3.7" class="s"/>
<circle cx="400" cy="140" r="3.7" class="s"/>
<rect x="420" y="99.5" width="20" height="51" class="hr"/>
<circle cx="430" cy="110" r="3.7" class="s"/>
<circle cx="430" cy="140" r="3.7" class="s"/>
<rect x="450" y="99.5" width="20" height="51" class="hr"/>
<circle cx="460" cy="110" r="3.7" class="s"/>
<circle cx="460" cy="140" r="3.7" class="s"/>
<rect x="480" y="99.5" width="20" height="51" class="hr"/>
<circle cx="490" cy="110" r="3.7" class="s"/>
<circle cx="490" cy="140" r="3.7" class="s"/>
<rect x="510" y="99.5" width="20" height="51" class="hr"/>
<circle cx="520" cy="110" r="3.7" class="s"/>
<circle cx="520" cy="140" r="3.7" class="s"/>
<rect x="540" y="99.5" width="20" height="51" class="hr"/>
<circle cx="550" cy="110" r="3.7" class="s"/>
<circle cx="550" cy="140" r="3.7" class="s"/>
<rect x="570" y="99.5" width="20" height="51" class="hr"/>
<circle cx="580" cy="110" r="3.7" class="s"/>
<circle cx="580" cy="140" r="3.7" class="s"/>
<rect x="600" y="99.5" width="20" height="51" class="hr"/>
<circle cx="610" cy="110" r="3.7" class="s"/>
<circle cx="610" cy="140" r="3.7" class="s"/>
<rect x="660" y="99.5" width="20" height="51" class="hr"/>
<circle cx="670" cy="110" r="3.7" class="s"/>
<circle cx="670" cy="140" r="3.7" class="s"/>
<rect x="690" y="99.5" width="20" height="51" class="hr"/>
<circle cx="700" cy="110" r="3.7" class="s"/>
<circle cx="700" cy="140" r="3.7" class="s"/>
<rect x="720" y="99.5" width="20" height="51" class="hr"/>
<circle cx="730" cy="110" r="3.7" class="s"/>
<circle cx="730" cy="140" r="3.7" class="s"/>
<rect x="750" y="99.5" width="20" height="51" class="hr"/>
<circle cx="760" cy="110" r="3.7" class="s"/>
<circle cx="760" cy="140" r="3.7" class="s"/>
<rect x="780" y="99.5" width="20" height="51" class="hr"/>
<circle cx="790" cy="110" r="3.7" class="s"/>
<circle cx="790" cy="140" r="3.7" class="s"/>
<rect x="810" y="99.5" width="20" height="51" class="hr"/>
<circle cx="820" cy="110" r="3.7" class="s"/>
<circle cx="820" cy="140" r="3.7" class="s"/>
<rect x="840" y="99.5" width="20" height="51" class="hr"/>
<circle cx="850" cy="110" r="3.7" class="s"/>
<circle cx="850" cy="140" r="3.7" class="s"/>
<rect x="870" y="99.5" width="20" height="51" class="hr"/>
<circle cx="880" cy="110" r="3.7" class="s"/>
<circle cx="880" cy="140" r="3.7" class="s"/>
<rect x="450" y="639.5" width="20" height="50" class="hr"/>
<circle cx="460" cy="650" r="3.7" class="s"/>
<circle cx="460" cy="680" r="3.7" class="s"/>
<rect x="480" y="639.5" width="20" height="50" class="hr"/>
<circle cx="490" cy="650" r="3.7" class="s"/>
<circle cx="490" cy="680" r="3.7" class="s"/>
<rect x="510" y="639.5" width="20" height="50" class="hr"/>
<circle cx="520" cy="650" r="3.7" class="s"/>
<circle cx="520" cy="680" r="3.7" class="s"/>
<rect x="540" y="639.5" width="20" height="50" class="hr"/>
<circle cx="550" cy="650" r="3.7" class="s"/>
<circle cx="550" cy="680" r="3.7" class="s"/>
<rect x="570" y="639.5" width="20" height="50" class="hr"/>
<circle cx="580" cy="650" r="3.7" class="s"/>
<circle cx="580" cy="680" r="3.7" class="s"/>
<rect x="600" y="639.5" width="20" height="50" class="hr"/>
<circle cx="610" cy="650" r="3.7" class="s"/>
<circle cx="610" cy="680" r="3.7" class="s"/>
<rect x="630" y="639.5" width="20" height="50" class="hr"/>
<circle cx="640" cy="650" r="3.7" class="s"/>
<circle cx="640" cy="680" r="3.7" class="s"/>
<rect x="660" y="639.5" width="20" height="50" class="hr"/>
<circle cx="670" cy="650" r="3.7" class="s"/>
<circle cx="670" cy="680" r="3.7" class="s"/>
<rect x="720" y="639.5" width="20" height="50" class="hr"/>
<circle cx="730" cy="650" r="3.7" class="s"/>
<circle cx="730" cy="680" r="3.7" class="s"/>
<rect x="750" y="639.5" width="20" height="50" class="hr"/>
<circle cx="760" cy="650" r="3.7" class="s"/>
<circle cx="760" cy="680" r="3.7" class="s"/>
<rect x="780" y="639.5" width="20" height="50" class="hr"/>
<circle cx="790" cy="650" r="3.7" class="s"/>
<circle cx="790" cy="680" r="3.7" class="s"/>
<rect x="810" y="639.5" width="20" height="50" class="hr"/>
<circle cx="820" cy="650" r="3.7" class="s"/>
<circle cx="820" cy="680" r="3.7" class="s"/>
<rect x="840" y="639.5" width="20" height="50" class="hr"/>
<circle cx="850" cy="650" r="3.7" class="s"/>
<circle cx="850" cy="680" r="3.7" class="s"/>
<rect x="870" y="639.5" width="20" height="50" class="hr"/>
<circle cx="880" cy="650" r="3.7" class="s"/>
<circle cx="880" cy="680" r="3.7" class="s"/>
<rect x="180" y="400" width="80" height="20" class="hr"/>
<circle cx="190" cy="410" r="3.7" class="s"/>
<circle cx="220" cy="410" r="3.7" class="s"/>
<circle cx="250" cy="410" r="3.7" class="s"/>
<rect x="330" y="400" width="80" height="20" class="hr"/>
<circle cx="340" cy="410" r="3.7" class="s"/>
<circle cx="370" cy="410" r="3.7" class="s"/>
<circle cx="400" cy="410" r="3.7" class="s"/>
<rect x="180" y="430" width="80" height="20" class="hr"/>
<circle cx="190" cy="440" r="3.7" class="s"/>
<circle cx="220" cy="440" r="3.7" class="s"/>
<circle cx="250" cy="440" r="3.7" class="s"/>
<rect x="330" y="430" width="80" height="20" class="hr"/>
<circle cx="340" cy="440" r="3.7" class="s"/>
<circle cx="370" cy="440" r="3.7" class="s"/>
<circle cx="400" cy="440" r="3.7" class="s"/>
<rect x="180" y="460" width="80" height="20" class="hr"/>
<circle cx="190" cy="470" r="3.7" class="s"/>
<circle cx="220" cy="470" r="3.7" class="s"/>
<circle cx="250" cy="470" r="3.7" class="s"/>
<rect x="330" y="460" width="80" height="20" class="hr"/>
<circle cx="340" cy="470" r="3.7" class="s"/>
<circle cx="370" cy="470" r="3.7" class="s"/>
<circle cx="400" cy="470" r="3.7" class="s"/>
<rect x="180" y="490" width="80" height="20" class="hr"/>
<circle cx="190" cy="500" r="3.7" class="s"/>
<circle cx="220" cy="500" r="3.7" class="s"/>
<circle cx="250" cy="500" r="3.7" class="s"/>
<rect x="330" y="490" width="80" height="20" class="hr"/>
<circle cx="340" cy="500" r="3.7" class="s"/>
<circle cx="370" cy="500" r="3.7" class="s"/>
<circle cx="400" cy="500" r="3.7" class="s"/>
<rect x="180" y="520" width="80" height="20" class="hr"/>
<circle cx="190" cy="530" r="3.7" class="s"/>
<circle cx="220" cy="530" r="3.7" class="s"/>
<circle cx="250" cy="530" r="3.7" class="s"/>
<rect x="330" y="520" width="80" height="20" class="hr"/>
<circle cx="340" cy="530" r="3.7" class="s"/>
<circle cx="370" cy="530" r="3.7" class="s"/>
<circle cx="400" cy="530" r="3.7" class="s"/>
<rect x="180" y="550" width="80" height="20" class="hr"/>
<circle cx="190" cy="560" r="3.7" class="s"/>
<circle cx="220" cy="560" r="3.7" class="s"/>
<circle cx="250" cy="560" r="3.7" class="s"/>
<rect x="330" y="550" width="80" height="20" class="hr"/>
<circle cx="340" cy="560" r="3.7" class="s"/>
<circle cx="370" cy="560" r="3.7" class="s"/>
<circle cx="400" cy="560" r="3.7" class="s"/>
<rect x="180" y="580" width="80" height="20" class="hr"/>
<circle cx="190" cy="590" r="3.7" class="s"/>
<circle cx="220" cy="590" r="3.7" class="s"/>
<circle cx="250" cy="590" r="3.7" class="s"/>
<rect x="330" y="580" width="80" height="20" class="hr"/>
<circle cx="340" cy="590" r="3.7" class="s"/>
<circle cx="370" cy="590" r="3.7" class="s"/>
<circle cx="400" cy="590" r="3.7" class="s"/>
<rect x="180" y="610" width="80" height="20" class="hr"/>
<circle cx="190" cy="620" r="3.7" class="s"/>
<circle cx="220" cy="620" r="3.7" class="s"/>
<circle cx="250" cy="620" r="3.7" class="s"/>
<rect x="330" y="610" width="80" height="20" class="hr"/>
<circle cx="340" cy="620" r="3.7" class="s"/>
<circle cx="370" cy="620" r="3.7" class="s"/>
<circle cx="400" cy="620" r="3.7" class="s"/>
<rect x="180" y="640" width="80" height="20" class="hr"/>
<circle cx="190" cy="650" r="3.7" class="s"/>
<circle cx="220" cy="650" r="3.7" class="s"/>
<circle cx="250" cy="650" r="3.7" class="s"/>
<rect x="330" y="640" width="80" height="20" class="hr"/>
<circle cx="340" cy="650" r="3.7" class="s"/>
<circle cx="370" cy="650" r="3.7" class="s"/>
<circle cx="400" cy="650" r="3.7" class="s"/>
<rect x="180" y="670" width="80" height="20" class="hr"/>
<circle cx="190" cy="680" r="3.7" class="s"/>
<circle cx="220" cy="680" r="3.7" class="s"/>
<circle cx="250" cy="680" r="3.7" class="s"/>
<rect x="330" y="670" width="80" height="20" class="hr"/>
<circle cx="340" cy="680" r="3.7" class="s"/>
<circle cx="370" cy="680" r="3.7" class="s"/>
<circle cx="400" cy="680" r="3.7" class="s"/>
<rect x="270" y="370" width="20" height="320" class="hr"/>
<rect x="300" y="370" width="20" height="320" class="hr"/>
<circle cx="280" cy="380" r="3.7" class="s"/>
<circle cx="310" cy="380" r="3.7" class="s"/>
<circle cx="280" cy="410" r="3.7" class="s"/>
<circle cx="310" cy="410" r="3.7" class="s"/>
<circle cx="280" cy="440" r="3.7" class="s"/>
<circle cx="310" cy="440" r="3.7" class="s"/>
<circle cx="280" cy="470" r="3.7" class="s"/>
<circle cx="310" cy="470" r="3.7" class="s"/>
<circle cx="280" cy="500" r="3.7" class="s"/>
<circle cx="310" cy="500" r="3.7" class="s"/>
<circle cx="280" cy="530" r="3.7" class="s"/>
<circle cx="310" cy="530" r="3.7" class="s"/>
<circle cx="280" cy="560" r="3.7" class="s"/>
<circle cx="310" cy="560" r="3.7" class="s"/>
<circle cx="280" cy="590" r="3.7" class="s"/>
<circle cx="310" cy="590" r="3.7" class="s"/>
<circle cx="280" cy="620" r="3.7" class="s"/>
<circle cx="310" cy="620" r="3.7" class="s"/>
<circle cx="280" cy="650" r="3.7" class="s"/>
<circle cx="310" cy="650" r="3.7" class="s"/>
<circle cx="280" cy="680" r="3.7" class="s"/>
<circle cx="310" cy="680" r="3.7" class="s"/>
</g>
<polygon points="130,80 910,80 910,290 940,320 940,590 910,620 910,710 130,710" fill="none" stroke="#000" stroke-width="2"/>
<line x1="580" y1="230" x2="580" y2="350" stroke="#00ff00" stroke-width="2.4"/>
<line x1="610" y1="200" x2="610" y2="590" stroke="#00ff00" stroke-width="1.2"/>
<line x1="640" y1="230" x2="640" y2="350" stroke="#00ff00" stroke-width="1.2"/>
<line x1="670" y1="200" x2="670" y2="350" stroke="#00ff00" stroke-width="2.4"/>
<line x1="730" y1="260" x2="730" y2="350" stroke="#00ff00" stroke-width="2.4"/>
<line x1="550" y1="440" x2="550" y2="500" stroke="#00ff00" stroke-width="1.2"/>
<line x1="580" y1="440" x2="580" y2="560" stroke="#00ff00" stroke-width="2.4"/>
<line x1="640" y1="440" x2="640" y2="590" stroke="#00ff00" stroke-width="1.2"/>
<line x1="700" y1="440" x2="700" y2="590" stroke="#00ff00" stroke-width="1.2"/>
<line x1="730" y1="440" x2="730" y2="590" stroke="#00ff00" stroke-width="2.4"/>
<path d="M610,380 A60,60 0 0 1 670,440" fill="none" stroke="#00ff00" stroke-width="1.6"/>
<polyline points="790.0,140.0 880.0,200.0" fill="none" stroke="#ff00ff" stroke-width="1.3" stroke-linejoin="miter" />
<polyline points="430.0,290.0 460.0,290.0" fill="none" stroke="#ff00ff" stroke-width="1.3" stroke-linejoin="miter" />
<polyline points="430.0,320.0 460.0,320.0" fill="none" stroke="#ff00ff" stroke-width="1.3" stroke-linejoin="miter" />
<polyline points="790.0,260.0 790.0,320.0" fill="none" stroke="#ff00ff" stroke-width="1.3" stroke-linejoin="miter" />
<polyline points="700.0,320.0 700.0,350.0" fill="none" stroke="#ff00ff" stroke-width="1.3" stroke-linejoin="miter" />
<polyline points="730.0,350.0 760.0,410.0" fill="none" stroke="#ff00ff" stroke-width="1.3" stroke-linejoin="miter" />
<polyline points="850.0,350.0 880.0,320.0" fill="none" stroke="#ff00ff" stroke-width="1.3" stroke-linejoin="miter" />
<polyline points="850.0,380.0 850.0,470.0" fill="none" stroke="#ff00ff" stroke-width="1.3" stroke-linejoin="miter" />
<polyline points="790.0,440.0 730.0,470.0" fill="none" stroke="#ff00ff" stroke-width="1.3" stroke-linejoin="miter" />
<polyline points="550.0,350.0 520.0,380.0 520.0,440.0" fill="none" stroke="#ff00ff" stroke-width="1.3" stroke-linejoin="miter" />
<polyline points="520.0,470.0 460.0,530.0" fill="none" stroke="#ff00ff" stroke-width="1.3" stroke-linejoin="miter" />
<polyline points="430.0,530.0 460.0,560.0 460.0,590.0" fill="none" stroke="#ff00ff" stroke-width="1.3" stroke-linejoin="miter" />
<polyline points="460.0,530.0 520.0,590.0" fill="none" stroke="#ff00ff" stroke-width="1.3" stroke-linejoin="miter" />
<polyline points="490.0,590.0 510.0,620.0 599.0,620.0" fill="none" stroke="#ff00ff" stroke-width="1.3" stroke-linejoin="miter" />
<polyline points="550.0,590.0 570.0,620.0" fill="none" stroke="#ff00ff" stroke-width="1.3" stroke-linejoin="miter" />
<polyline points="580.0,590.0 609.0,609.0 640.0,590.0" fill="none" stroke="#ff00ff" stroke-width="1.3" stroke-linejoin="miter" />
<polyline points="700.0,590.0 662.0,618.0" fill="none" stroke="#ff00ff" stroke-width="1.3" stroke-linejoin="miter" />
<polyline points="760.0,560.0 730.0,650.0" fill="none" stroke="#ff00ff" stroke-width="1.3" stroke-linejoin="miter" />
<line x1="160" y1="410" x2="190" y2="410" stroke="#ff00ff" stroke-width="1.3"/>
<line x1="160" y1="440" x2="190" y2="440" stroke="#ff00ff" stroke-width="1.3"/>
<line x1="160" y1="470" x2="190" y2="470" stroke="#ff00ff" stroke-width="1.3"/>
<line x1="160" y1="500" x2="190" y2="500" stroke="#ff00ff" stroke-width="1.3"/>
<line x1="160" y1="530" x2="190" y2="530" stroke="#ff00ff" stroke-width="1.3"/>
<line x1="160" y1="560" x2="190" y2="560" stroke="#ff00ff" stroke-width="1.3"/>
<polyline points="850,350 880,320" fill="none" stroke="#ff00ff" stroke-width="2"/>
<polyline points="520,470 460,530" fill="none" stroke="#ff00ff" stroke-width="2"/>
<polyline points="430.0,150.0 430.0,156.0 420.0,169.5 370.0,169.5 370.0,379.5 320.0,379.5" fill="none" stroke="#0000ff" stroke-width="2" stroke-linejoin="miter" />
<polyline points="280.0,690.0 290.0,705.0 440.0,705.0 440.0,640.0 455.0,625.0 565.0,625.0 580.0,640.0" fill="none" stroke="#0000ff" stroke-width="2" stroke-linejoin="miter" />
<polyline points="910.0,418.0 910.0,570.0 870.0,615.0 445.0,615.0 440.0,620.0" fill="none" stroke="#0000ff" stroke-width="2" stroke-linejoin="miter" />
<line x1="640" y1="615" x2="640" y2="639" stroke="#0000ff" stroke-width="1.2"/>
<polyline points="916.0,356.0 925.0,358.0 925.0,565.0 875.0,620.0 599.0,620.0 580.0,640.0" fill="none" stroke="#ff0000" stroke-width="2" stroke-linejoin="miter" />
<polyline points="880.0,410.0 905.0,435.0 905.0,570.0 865.0,610.0 550.0,610.0" fill="none" stroke="#ff0000" stroke-width="2" stroke-linejoin="miter" />
<line x1="550" y1="610" x2="520" y2="638" stroke="#ff0000" stroke-width="1.2"/>
<polyline points="430.0,628.0 430.0,700.0 320.0,700.0 310.0,690.0" fill="none" stroke="#ff0000" stroke-width="2" stroke-linejoin="miter" />
<polyline points="369.5,49.5 566.0,215.0" fill="none" stroke="#000000" stroke-width="1.3" stroke-linejoin="miter" />
<polyline points="369.5,49.5 534.0,260.0" fill="none" stroke="#000000" stroke-width="1.3" stroke-linejoin="miter" />
<line x1="534" y1="260" x2="566" y2="260" stroke="#000000" stroke-width="2"/>
<polyline points="220.0,500.0 240.0,470.0 240.0,400.0 429.0,280.0 610.0,209.0 640.0,230.0" fill="none" stroke="#000000" stroke-width="1.4" stroke-linejoin="miter" />
<polyline points="250.0,410.0 430.0,290.0" fill="none" stroke="#000000" stroke-width="1.3" stroke-linejoin="miter" />
<polyline points="250.0,440.0 430.0,320.0" fill="none" stroke="#000000" stroke-width="1.3" stroke-linejoin="miter" />
<polyline points="250.0,470.0 520.0,380.0" fill="none" stroke="#000000" stroke-width="1.3" stroke-linejoin="miter" />
<polyline points="430.0,530.0 520.0,440.0" fill="none" stroke="#000000" stroke-width="2" stroke-linejoin="miter" />
<line x1="250" y1="530" x2="310" y2="530" stroke="#000000" stroke-width="2"/>
<polyline points="250.0,560.0 410.0,609.5" fill="none" stroke="#000000" stroke-width="1.3" stroke-linejoin="miter" />
<line x1="409.5" y1="609.5" x2="550.5" y2="609.5" stroke="#000000" stroke-width="2"/>
<polyline points="550.0,609.5 580.0,590.0" fill="none" stroke="#000000" stroke-width="1.3" stroke-linejoin="miter" />
<line x1="119" y1="410" x2="160" y2="410" stroke="#000000" stroke-width="1.3"/>
<line x1="119" y1="440" x2="160" y2="440" stroke="#000000" stroke-width="1.3"/>
<line x1="119" y1="470" x2="160" y2="470" stroke="#000000" stroke-width="1.3"/>
<line x1="119" y1="530" x2="160" y2="530" stroke="#000000" stroke-width="1.3"/>
<line x1="119" y1="560" x2="160" y2="560" stroke="#000000" stroke-width="1.3"/>
<line x1="119" y1="500" x2="160" y2="500" stroke="#000000" stroke-width="2.2"/>
<polyline points="610.0,200.0 636.5,200.0" fill="none" stroke="#000000" stroke-width="2.2" stroke-linejoin="miter" />
<polyline points="643.5,200.0 670.0,200.0" fill="none" stroke="#000000" stroke-width="2.2" stroke-linejoin="miter" />
<line x1="636.5" y1="188.5" x2="636.5" y2="211.5" stroke="#000000" stroke-width="1.1"/>
<line x1="643.5" y1="188.5" x2="643.5" y2="211.5" stroke="#000000" stroke-width="1.1"/>
<polyline points="730.0,260.0 756.5,260.0" fill="none" stroke="#000000" stroke-width="1.1" stroke-linejoin="miter" />
<polyline points="763.5,260.0 790.0,260.0" fill="none" stroke="#000000" stroke-width="1.1" stroke-linejoin="miter" />
<line x1="756.5" y1="248.5" x2="756.5" y2="271.5" stroke="#000000" stroke-width="1.2"/>
<line x1="763.5" y1="248.5" x2="763.5" y2="271.5" stroke="#000000" stroke-width="1.2"/>
<polyline points="610.0,290.0 622.5,302.5" fill="none" stroke="#000000" stroke-width="1.7" stroke-linejoin="miter" />
<polyline points="627.5,307.5 640.0,320.0" fill="none" stroke="#000000" stroke-width="1.7" stroke-linejoin="miter" />
<line x1="630.7" y1="294.4" x2="614.4" y2="310.7" stroke="#000000" stroke-width="1.9"/>
<line x1="635.6" y1="299.3" x2="619.3" y2="315.6" stroke="#000000" stroke-width="1.9"/>
<polyline points="610.0,500.0 622.5,487.5" fill="none" stroke="#000000" stroke-width="1.9" stroke-linejoin="miter" />
<polyline points="627.5,482.5 640.0,470.0" fill="none" stroke="#000000" stroke-width="1.9" stroke-linejoin="miter" />
<line x1="614.4" y1="479.3" x2="630.7" y2="495.6" stroke="#000000" stroke-width="1.8"/>
<line x1="619.3" y1="474.4" x2="635.6" y2="490.7" stroke="#000000" stroke-width="1.8"/>
<polyline points="580.0,230.0 610.0,230.0" fill="none" stroke="#000000" stroke-width="1.3" stroke-linejoin="miter" />
<circle cx="580" cy="230" r="9.4" fill="none" stroke="#000" stroke-width="2"/>
<polyline points="610.0,260.0 580.0,260.0" fill="none" stroke="#000000" stroke-width="1.3" stroke-linejoin="miter" />
<circle cx="610" cy="260" r="9.4" fill="none" stroke="#000" stroke-width="2"/>
<polyline points="550.0,470.0 520.0,470.0" fill="none" stroke="#000000" stroke-width="1.3" stroke-linejoin="miter" />
<circle cx="550" cy="470" r="9.4" fill="none" stroke="#000" stroke-width="2"/>
<polyline points="580.0,500.0 550.0,500.0" fill="none" stroke="#000000" stroke-width="2.2" stroke-linejoin="miter" />
<circle cx="580" cy="500" r="9.4" fill="none" stroke="#000" stroke-width="2"/>
<polyline points="460.0,590.0 490.0,590.0" fill="none" stroke="#000000" stroke-width="1.3" stroke-linejoin="miter" />
<circle cx="460" cy="590" r="9.4" fill="none" stroke="#000" stroke-width="2"/>
<polyline points="520.0,590.0 550.0,590.0" fill="none" stroke="#000000" stroke-width="1.3" stroke-linejoin="miter" />
<circle cx="520" cy="590" r="9.4" fill="none" stroke="#000" stroke-width="2"/>
<polyline points="700.0,590.0 730.0,590.0" fill="none" stroke="#000000" stroke-width="1.3" stroke-linejoin="miter" />
<circle cx="700" cy="590" r="9.4" fill="none" stroke="#000" stroke-width="2"/>
<polyline points="460.0,290.0 480.0,290.0" fill="none" stroke="#000000" stroke-width="1.4" stroke-linejoin="miter" />
<polyline points="560.0,290.0 580.0,290.0" fill="none" stroke="#000000" stroke-width="1.4" stroke-linejoin="miter" />
<polyline points="480.0,290.0 484.0,283.3 492.0,296.7 500.0,283.3 508.0,296.7 516.0,283.3 524.0,296.7 532.0,283.3 540.0,296.7 548.0,283.3 556.0,296.7 560.0,290.0" fill="none" stroke="#000000" stroke-width="1.4" stroke-linejoin="miter" />
<polyline points="460.0,320.0 480.0,320.0" fill="none" stroke="#000000" stroke-width="1.4" stroke-linejoin="miter" />
<polyline points="560.0,320.0 580.0,320.0" fill="none" stroke="#000000" stroke-width="1.4" stroke-linejoin="miter" />
<polyline points="480.0,320.0 484.0,313.3 492.0,326.7 500.0,313.3 508.0,326.7 516.0,313.3 524.0,326.7 532.0,313.3 540.0,326.7 548.0,313.3 556.0,326.7 560.0,320.0" fill="none" stroke="#000000" stroke-width="1.4" stroke-linejoin="miter" />
<polyline points="670.0,290.0 690.0,290.0" fill="none" stroke="#000000" stroke-width="1.4" stroke-linejoin="miter" />
<polyline points="770.0,290.0 790.0,290.0" fill="none" stroke="#000000" stroke-width="1.4" stroke-linejoin="miter" />
<polyline points="690.0,290.0 694.0,283.3 702.0,296.7 710.0,283.3 718.0,296.7 726.0,283.3 734.0,296.7 742.0,283.3 750.0,296.7 758.0,283.3 766.0,296.7 770.0,290.0" fill="none" stroke="#000000" stroke-width="1.4" stroke-linejoin="miter" />
<polyline points="460.0,530.0 480.0,530.0" fill="none" stroke="#000000" stroke-width="1.4" stroke-linejoin="miter" />
<polyline points="560.0,530.0 580.0,530.0" fill="none" stroke="#000000" stroke-width="1.4" stroke-linejoin="miter" />
<polyline points="480.0,530.0 484.0,523.3 492.0,536.7 500.0,523.3 508.0,536.7 516.0,523.3 524.0,536.7 532.0,523.3 540.0,536.7 548.0,523.3 556.0,536.7 560.0,530.0" fill="none" stroke="#000000" stroke-width="1.4" stroke-linejoin="miter" />
<polyline points="460.0,560.0 480.0,560.0" fill="none" stroke="#000000" stroke-width="1.4" stroke-linejoin="miter" />
<polyline points="560.0,560.0 580.0,560.0" fill="none" stroke="#000000" stroke-width="1.4" stroke-linejoin="miter" />
<polyline points="480.0,560.0 484.0,553.3 492.0,566.7 500.0,553.3 508.0,566.7 516.0,553.3 524.0,566.7 532.0,553.3 540.0,566.7 548.0,553.3 556.0,566.7 560.0,560.0" fill="none" stroke="#000000" stroke-width="1.4" stroke-linejoin="miter" />
<polyline points="880.0,200.0 880.0,220.5" fill="none" stroke="#000000" stroke-width="2" stroke-linejoin="miter" />
<polyline points="880.0,299.5 880.0,320.0" fill="none" stroke="#000000" stroke-width="2" stroke-linejoin="miter" />
<polyline points="880.0,220.5 886.7,224.4 873.3,232.3 886.7,240.2 873.3,248.2 886.7,256.1 873.3,263.9 886.7,271.9 873.3,279.8 886.7,287.6 873.3,295.6 880.0,299.5" fill="none" stroke="#000000" stroke-width="1.4" stroke-linejoin="miter" />
<polyline points="790.0,320.0 790.0,340.0" fill="none" stroke="#000000" stroke-width="1.4" stroke-linejoin="miter" />
<polyline points="790.0,420.0 790.0,440.0" fill="none" stroke="#000000" stroke-width="1.4" stroke-linejoin="miter" />
<polyline points="790.0,340.0 796.7,344.0 783.3,352.0 796.7,360.0 783.3,368.0 796.7,376.0 783.3,384.0 796.7,392.0 783.3,400.0 796.7,408.0 783.3,416.0 790.0,420.0" fill="none" stroke="#000000" stroke-width="1.4" stroke-linejoin="miter" />
<polyline points="760.0,410.0 760.0,435.0" fill="none" stroke="#000000" stroke-width="2" stroke-linejoin="miter" />
<polyline points="760.0,535.0 760.0,560.0" fill="none" stroke="#000000" stroke-width="2" stroke-linejoin="miter" />
<polyline points="760.0,435.0 766.0,439.0 754.0,449.0 766.0,459.0 754.0,469.0 766.0,479.0 754.0,489.0 766.0,499.0 754.0,509.0 766.0,519.0 754.0,529.0 760.0,535.0" fill="none" stroke="#000000" stroke-width="1.4" stroke-linejoin="miter" />
<line x1="700" y1="320" x2="730" y2="320" stroke="#000000" stroke-width="1.3"/>
<line x1="826" y1="326.5" x2="875" y2="326.5" stroke="#000000" stroke-width="2"/>
<line x1="826" y1="433.5" x2="875" y2="433.5" stroke="#000000" stroke-width="2"/>
<line x1="827" y1="326" x2="827" y2="434" stroke="#000000" stroke-width="1.2"/>
<line x1="874.3" y1="326" x2="874.3" y2="434" stroke="#000000" stroke-width="1.4"/>
<circle cx="841" cy="421" r="8.8" fill="none" stroke="#000" stroke-width="1.3"/>
<line x1="835.5" y1="428" x2="847.5" y2="414" stroke="#000000" stroke-width="1.3"/>
<polyline points="910.0,410.0 945.0,440.0 1000.0,440.0" fill="none" stroke="#000000" stroke-width="1.3" stroke-linejoin="miter" />
<line x1="850" y1="470" x2="1000" y2="470" stroke="#000000" stroke-width="1.3"/>
<polyline points="950.0,570.0 680.0,570.0" fill="none" stroke="#000000" stroke-width="2" stroke-linejoin="miter" />
<polyline points="680.0,570.0 660.0,470.0" fill="none" stroke="#000000" stroke-width="1.3" stroke-linejoin="miter" />
<line x1="569.5" y1="470" x2="660" y2="470" stroke="#000000" stroke-width="2"/>
<polyline points="680.0,570.0 589.0,510.0" fill="none" stroke="#000000" stroke-width="1.3" stroke-linejoin="miter" />
<path d="M740,450 H540 V405.5 A10.2,10.2 0 0 0 540,385 V340" fill="none" stroke="#000" stroke-width="1.4"/>
<line x1="539.3" y1="340" x2="741" y2="340" stroke="#000000" stroke-width="2"/>
<line x1="740" y1="339" x2="740" y2="451" stroke="#000000" stroke-width="2"/>
<line x1="460" y1="620" x2="460" y2="720" stroke="#000000" stroke-width="2"/>
<polyline points="520.0,620.0 520.0,640.0 490.0,690.0 490.0,720.0" fill="none" stroke="#000000" stroke-width="1.3" stroke-linejoin="miter" />
<line x1="610" y1="590" x2="640" y2="650" stroke="#000000" stroke-width="1.3"/>
<line x1="640" y1="590" x2="670" y2="650" stroke="#000000" stroke-width="1.3"/>
<line x1="700" y1="609" x2="700" y2="640" stroke="#000000" stroke-width="2"/>
<polyline points="520.0,54.6 520.0,39.0 535.0,24.5 556.0,24.5" fill="none" stroke="#000000" stroke-width="2" stroke-linejoin="miter" />
<line x1="550" y1="24.5" x2="550" y2="54.6" stroke="#000000" stroke-width="2"/>
<line x1="580" y1="39" x2="580" y2="54.6" stroke="#000000" stroke-width="2"/>
<line x1="700" y1="39" x2="700" y2="54.6" stroke="#000000" stroke-width="2"/>
<line x1="730" y1="39" x2="730" y2="54.6" stroke="#000000" stroke-width="2"/>
<polyline points="749.0,24.5 775.0,24.5 790.0,39.5 790.0,54.6" fill="none" stroke="#000000" stroke-width="2" stroke-linejoin="miter" />
<text x="91" y="50.5" font-family="Liberation Mono" font-size="16.7" font-weight="normal" text-anchor="start" stroke="#000" stroke-width="0.12">1N4148 CATHOD NEXT TO BOARD</text>
<text x="563" y="29.9" font-family="Liberation Mono" font-size="16.8" font-weight="normal" text-anchor="start" stroke="#000" stroke-width="0.12">ANALOG PWM OUTPUTS</text>
<text x="460" y="76" font-family="Liberation Mono" font-size="16.8" font-weight="normal" text-anchor="middle" stroke="#000" stroke-width="0.12">13</text>
<text x="490" y="76" font-family="Liberation Mono" font-size="16.8" font-weight="normal" text-anchor="middle" stroke="#000" stroke-width="0.12">12</text>
<text x="520" y="76" font-family="Liberation Mono" font-size="16.8" font-weight="normal" text-anchor="middle" stroke="#000" stroke-width="0.12">11</text>
<text x="550" y="76" font-family="Liberation Mono" font-size="16.8" font-weight="normal" text-anchor="middle" stroke="#000" stroke-width="0.12">10</text>
<text x="580" y="76" font-family="Liberation Mono" font-size="16.8" font-weight="normal" text-anchor="middle" stroke="#000" stroke-width="0.12">9</text>
<text x="610" y="76" font-family="Liberation Mono" font-size="16.8" font-weight="normal" text-anchor="middle" stroke="#000" stroke-width="0.12">8</text>
<text x="670" y="76" font-family="Liberation Mono" font-size="16.8" font-weight="normal" text-anchor="middle" stroke="#000" stroke-width="0.12">7</text>
<text x="700" y="76" font-family="Liberation Mono" font-size="16.8" font-weight="normal" text-anchor="middle" stroke="#000" stroke-width="0.12">6</text>
<text x="730" y="76" font-family="Liberation Mono" font-size="16.8" font-weight="normal" text-anchor="middle" stroke="#000" stroke-width="0.12">5</text>
<text x="760" y="76" font-family="Liberation Mono" font-size="16.8" font-weight="normal" text-anchor="middle" stroke="#000" stroke-width="0.12">4</text>
<text x="790" y="76" font-family="Liberation Mono" font-size="16.8" font-weight="normal" text-anchor="middle" stroke="#000" stroke-width="0.12">3</text>
<text x="820" y="76" font-family="Liberation Mono" font-size="16.8" font-weight="normal" text-anchor="middle" stroke="#000" stroke-width="0.12">2</text>
<text x="850" y="76" font-family="Liberation Mono" font-size="16.8" font-weight="normal" text-anchor="middle" stroke="#000" stroke-width="0.12">1</text>
<text x="880" y="76" font-family="Liberation Mono" font-size="16.8" font-weight="normal" text-anchor="middle" stroke="#000" stroke-width="0.12">0</text>
<text x="436" y="59.5" font-family="Liberation Mono" font-size="16.8" font-weight="normal" text-anchor="middle" transform="rotate(-90 436 59.5)" stroke="#000" stroke-width="0.12">GND</text>
<text x="549" y="95.5" font-family="Liberation Mono" font-size="16.8" font-weight="normal" text-anchor="middle" stroke="#000" stroke-width="0.12">500 Hz</text>
<text x="714.5" y="95.5" font-family="Liberation Mono" font-size="16.8" font-weight="normal" text-anchor="middle" stroke="#000" stroke-width="0.12">960 Hz</text>
<text x="789" y="95.5" font-family="Liberation Mono" font-size="16.8" font-weight="normal" text-anchor="middle" stroke="#000" stroke-width="0.12">500 Hz</text>
<text x="70" y="416" font-family="Liberation Mono" font-size="16.8" font-weight="normal" text-anchor="middle" >RANGE END</text>
<text x="70" y="446" font-family="Liberation Mono" font-size="16.8" font-weight="normal" text-anchor="middle" >LOAD END</text>
<text x="70" y="476" font-family="Liberation Mono" font-size="16.8" font-weight="normal" text-anchor="middle" >LOAD WIPER</text>
<text x="70" y="506" font-family="Liberation Mono" font-size="16.8" font-weight="normal" text-anchor="middle" stroke="#000" stroke-width="0.12">-12 V</text>
<text x="70" y="536" font-family="Liberation Mono" font-size="16.8" font-weight="normal" text-anchor="middle" stroke="#000" stroke-width="0.12">GND</text>
<text x="70" y="566" font-family="Liberation Mono" font-size="16.8" font-weight="normal" text-anchor="middle" stroke="#000" stroke-width="0.12">+12 V</text>
<text x="970" y="355.5" font-family="Liberation Mono" font-size="16.8" font-weight="normal" text-anchor="middle" stroke="#000" stroke-width="0.12">5V</text>
<text x="970" y="415.7" font-family="Liberation Mono" font-size="16.8" font-weight="normal" text-anchor="middle" stroke="#000" stroke-width="0.12">GND</text>
<text x="1010" y="460.7" font-family="Liberation Mono" font-size="16.8" font-weight="normal" text-anchor="middle" >METER</text>
<text x="1010" y="444" font-family="Liberation Mono" font-size="16.8" font-weight="normal" text-anchor="middle" >-</text>
<text x="1009.5" y="475" font-family="Liberation Mono" font-size="14" font-weight="normal" text-anchor="middle" >+</text>
<text x="990" y="570.7" font-family="Liberation Mono" font-size="16.8" font-weight="normal" text-anchor="middle" stroke="#000" stroke-width="0.12">1N6263</text>
<text x="990" y="590.7" font-family="Liberation Mono" font-size="16.8" font-weight="normal" text-anchor="middle" stroke="#000" stroke-width="0.12">CATHODE</text>
<text x="990" y="610.7" font-family="Liberation Mono" font-size="16.8" font-weight="normal" text-anchor="middle" stroke="#000" stroke-width="0.12">NEXT TO</text>
<text x="990" y="630.7" font-family="Liberation Mono" font-size="16.8" font-weight="normal" text-anchor="middle" stroke="#000" stroke-width="0.12">PC BOARD</text>
<text x="286" y="739.5" font-family="Liberation Mono" font-size="16.8" font-weight="normal" text-anchor="middle" transform="rotate(-90 286 739.5)" stroke="#000" stroke-width="0.12">+5V</text>
<text x="316" y="739.8" font-family="Liberation Mono" font-size="16.8" font-weight="normal" text-anchor="middle" transform="rotate(-90 316 739.8)" stroke="#000" stroke-width="0.12">GND</text>
<text x="466" y="749.5" font-family="Liberation Mono" font-size="16.8" font-weight="normal" text-anchor="middle" transform="rotate(-90 466 749.5)" stroke="#000" stroke-width="0.12">20 kΩ</text>
<text x="496" y="749.2" font-family="Liberation Mono" font-size="16.8" font-weight="normal" text-anchor="middle" transform="rotate(-90 496 749.2)" stroke="#000" stroke-width="0.12">10 kΩ</text>
<text x="526" y="740" font-family="Liberation Mono" font-size="16.8" font-weight="normal" text-anchor="middle" transform="rotate(-90 526 740)" stroke="#000" stroke-width="0.12">RESET</text>
<text x="556" y="740" font-family="Liberation Mono" font-size="16.8" font-weight="normal" text-anchor="middle" transform="rotate(-90 556 740)" stroke="#000" stroke-width="0.12">3.3V</text>
<text x="586" y="740" font-family="Liberation Mono" font-size="16.8" font-weight="normal" text-anchor="middle" transform="rotate(-90 586 740)" stroke="#000" stroke-width="0.12">5V</text>
<text x="676" y="739.6" font-family="Liberation Mono" font-size="16.8" font-weight="normal" text-anchor="middle" transform="rotate(-90 676 739.6)" stroke="#000" stroke-width="0.12">9-12V</text>
<text x="625" y="746" font-family="Liberation Mono" font-size="16.8" font-weight="normal" text-anchor="middle" >GMD</text>
<text x="706" y="666" font-family="Liberation Mono" font-size="16.8" font-weight="normal" text-anchor="middle" transform="rotate(-90 706 666)" >R13</text>
<text x="906" y="260.5" font-family="Liberation Mono" font-size="16.8" font-weight="normal" text-anchor="middle" transform="rotate(-90 906 260.5)" stroke="#000" stroke-width="0.12">R17</text>
<text x="730" y="727" font-family="Liberation Mono" font-size="16.8" font-weight="normal" text-anchor="middle" stroke="#000" stroke-width="0.12">0</text>
<text x="760" y="727" font-family="Liberation Mono" font-size="16.8" font-weight="normal" text-anchor="middle" stroke="#000" stroke-width="0.12">1</text>
<text x="790" y="727" font-family="Liberation Mono" font-size="16.8" font-weight="normal" text-anchor="middle" stroke="#000" stroke-width="0.12">2</text>
<text x="820" y="727" font-family="Liberation Mono" font-size="16.8" font-weight="normal" text-anchor="middle" stroke="#000" stroke-width="0.12">3</text>
<text x="850" y="727" font-family="Liberation Mono" font-size="16.8" font-weight="normal" text-anchor="middle" stroke="#000" stroke-width="0.12">4</text>
<text x="880" y="727" font-family="Liberation Mono" font-size="16.8" font-weight="normal" text-anchor="middle" stroke="#000" stroke-width="0.12">5</text>
<text x="321.9" y="334.8" font-family="Liberation Serif" font-size="17" font-weight="bold" text-anchor="middle" textLength="55" lengthAdjust="spacingAndGlyphs" transform="rotate(-38.5 321.9 334.8)">VIOLET</text>
<text x="281.6" y="405.5" font-family="Liberation Serif" font-size="17" font-weight="bold" text-anchor="middle" textLength="54" lengthAdjust="spacingAndGlyphs" transform="rotate(-35 281.6 405.5)">YELLOW</text>
<text x="289.7" y="431.5" font-family="Liberation Serif" font-size="17" font-weight="bold" text-anchor="middle" textLength="37.5" lengthAdjust="spacingAndGlyphs" transform="rotate(-35 289.7 431.5)">BLUE</text>
<text x="311.9" y="466.2" font-family="Liberation Serif" font-size="17" font-weight="bold" text-anchor="middle" textLength="57" lengthAdjust="spacingAndGlyphs" transform="rotate(-20 311.9 466.2)">ORANGE</text>
<text x="472.3" y="478.2" font-family="Liberation Serif" font-size="17" font-weight="bold" text-anchor="middle" textLength="55" lengthAdjust="spacingAndGlyphs" transform="rotate(-45 472.3 478.2)">ORANGE</text>
<text x="280" y="523" font-family="Liberation Serif" font-size="17" font-weight="normal" text-anchor="middle" textLength="50" lengthAdjust="spacingAndGlyphs" transform="rotate(0 280 523)">BLACK</text>
<text x="307.3" y="565.2" font-family="Liberation Serif" font-size="17" font-weight="bold" text-anchor="middle" textLength="28" lengthAdjust="spacingAndGlyphs" transform="rotate(18 307.3 565.2)">RED</text>
<g fill="#000"><text x="185" y="150" font-family="Liberation Serif" font-size="32" text-anchor="start" textLength="98" lengthAdjust="spacingAndGlyphs">FRONT</text>
<text x="310" y="118" font-family="Liberation Serif" font-size="23" text-anchor="middle">A</text>
<text x="310" y="148" font-family="Liberation Serif" font-size="23" text-anchor="middle">B</text>
<text x="310" y="208" font-family="Liberation Serif" font-size="23" text-anchor="middle">C</text>
<text x="310" y="238" font-family="Liberation Serif" font-size="23" text-anchor="middle">D</text>
<text x="310" y="268" font-family="Liberation Serif" font-size="23" text-anchor="middle">E</text>
<text x="310" y="298" font-family="Liberation Serif" font-size="23" text-anchor="middle">F</text>
<text x="280" y="328" font-family="Liberation Serif" font-size="23" text-anchor="middle">G</text>
<text x="250" y="358" font-family="Liberation Serif" font-size="23" text-anchor="middle">H</text>
<text x="205" y="388" font-family="Liberation Serif" font-size="23" text-anchor="middle">J</text>
<text x="205" y="418" font-family="Liberation Serif" font-size="23" text-anchor="middle">K</text>
<text x="205" y="448" font-family="Liberation Serif" font-size="23" text-anchor="middle">L</text>
<text x="205" y="478" font-family="Liberation Serif" font-size="23" text-anchor="middle">M</text>
<text x="205" y="508" font-family="Liberation Serif" font-size="23" text-anchor="middle">N</text>
<text x="205" y="538" font-family="Liberation Serif" font-size="23" text-anchor="middle">O</text>
<text x="205" y="568" font-family="Liberation Serif" font-size="23" text-anchor="middle">P</text>
<text x="205" y="598" font-family="Liberation Serif" font-size="23" text-anchor="middle">Q</text>
<text x="205" y="628" font-family="Liberation Serif" font-size="23" text-anchor="middle">R</text>
<text x="205" y="658" font-family="Liberation Serif" font-size="23" text-anchor="middle">S</text>
<text x="205" y="688" font-family="Liberation Serif" font-size="23" text-anchor="middle">T</text>
<text transform="translate(160 178) scale(1.17 1)" x="0" y="0" font-family="Liberation Serif" font-size="24" text-anchor="middle">1</text>
<text transform="translate(190 178) scale(1.17 1)" x="0" y="0" font-family="Liberation Serif" font-size="24" text-anchor="middle">2</text>
<text transform="translate(220 178) scale(1.17 1)" x="0" y="0" font-family="Liberation Serif" font-size="24" text-anchor="middle">3</text>
<text transform="translate(250 178) scale(1.17 1)" x="0" y="0" font-family="Liberation Serif" font-size="24" text-anchor="middle">4</text>
<text transform="translate(280 178) scale(1.17 1)" x="0" y="0" font-family="Liberation Serif" font-size="24" text-anchor="middle">5</text>
<text transform="translate(310 178) scale(1.17 1)" x="0" y="0" font-family="Liberation Serif" font-size="24" text-anchor="middle">6</text>
<text transform="translate(340 178) scale(1.17 1)" x="0" y="0" font-family="Liberation Serif" font-size="24" text-anchor="middle">7</text>
<text transform="translate(370 178) scale(1.17 1)" x="0" y="0" font-family="Liberation Serif" font-size="24" text-anchor="middle">8</text>
<text transform="translate(400 178) scale(1.17 1)" x="0" y="0" font-family="Liberation Serif" font-size="24" text-anchor="middle">9</text>
<text transform="translate(430 178) scale(1.17 1)" x="0" y="0" font-family="Liberation Serif" font-size="24" text-anchor="middle">10</text>
<text transform="translate(460 178) scale(1.17 1)" x="0" y="0" font-family="Liberation Serif" font-size="24" text-anchor="middle">11</text>
<text transform="translate(490 178) scale(1.17 1)" x="0" y="0" font-family="Liberation Serif" font-size="24" text-anchor="middle">12</text>
<text transform="translate(520 178) scale(1.17 1)" x="0" y="0" font-family="Liberation Serif" font-size="24" text-anchor="middle">13</text>
<text transform="translate(550 178) scale(1.17 1)" x="0" y="0" font-family="Liberation Serif" font-size="24" text-anchor="middle">14</text>
<text transform="translate(580 178) scale(1.17 1)" x="0" y="0" font-family="Liberation Serif" font-size="24" text-anchor="middle">15</text>
<text transform="translate(610 178) scale(1.17 1)" x="0" y="0" font-family="Liberation Serif" font-size="24" text-anchor="middle">16</text>
<text transform="translate(640 178) scale(1.17 1)" x="0" y="0" font-family="Liberation Serif" font-size="24" text-anchor="middle">17</text>
<text transform="translate(670 178) scale(1.17 1)" x="0" y="0" font-family="Liberation Serif" font-size="24" text-anchor="middle">18</text>
<text transform="translate(700 178) scale(1.17 1)" x="0" y="0" font-family="Liberation Serif" font-size="24" text-anchor="middle">19</text>
<text transform="translate(730 178) scale(1.17 1)" x="0" y="0" font-family="Liberation Serif" font-size="24" text-anchor="middle">20</text>
<text transform="translate(760 178) scale(1.17 1)" x="0" y="0" font-family="Liberation Serif" font-size="24" text-anchor="middle">21</text>
<text transform="translate(790 178) scale(1.17 1)" x="0" y="0" font-family="Liberation Serif" font-size="24" text-anchor="middle">22</text>
<text transform="translate(820 178) scale(1.17 1)" x="0" y="0" font-family="Liberation Serif" font-size="24" text-anchor="middle">23</text>
<text transform="translate(850 178) scale(1.17 1)" x="0" y="0" font-family="Liberation Serif" font-size="24" text-anchor="middle">24</text>
<text transform="translate(880 178) scale(1.17 1)" x="0" y="0" font-family="Liberation Serif" font-size="24" text-anchor="middle">25</text>
<text transform="translate(460 628) scale(1.17 1)" x="0" y="0" font-family="Liberation Serif" font-size="24" text-anchor="middle">11</text>
<text transform="translate(490 628) scale(1.17 1)" x="0" y="0" font-family="Liberation Serif" font-size="24" text-anchor="middle">12</text>
<text transform="translate(520 628) scale(1.17 1)" x="0" y="0" font-family="Liberation Serif" font-size="24" text-anchor="middle">13</text>
<text transform="translate(550 628) scale(1.17 1)" x="0" y="0" font-family="Liberation Serif" font-size="24" text-anchor="middle">14</text>
<text transform="translate(580 628) scale(1.17 1)" x="0" y="0" font-family="Liberation Serif" font-size="24" text-anchor="middle">15</text>
<text transform="translate(610 628) scale(1.17 1)" x="0" y="0" font-family="Liberation Serif" font-size="24" text-anchor="middle">16</text>
<text transform="translate(640 628) scale(1.17 1)" x="0" y="0" font-family="Liberation Serif" font-size="24" text-anchor="middle">17</text>
<text transform="translate(670 628) scale(1.17 1)" x="0" y="0" font-family="Liberation Serif" font-size="24" text-anchor="middle">18</text>
<text transform="translate(700 628) scale(1.17 1)" x="0" y="0" font-family="Liberation Serif" font-size="24" text-anchor="middle">19</text>
<text transform="translate(730 628) scale(1.17 1)" x="0" y="0" font-family="Liberation Serif" font-size="24" text-anchor="middle">20</text>
<text transform="translate(760 628) scale(1.17 1)" x="0" y="0" font-family="Liberation Serif" font-size="24" text-anchor="middle">21</text>
<text transform="translate(790 628) scale(1.17 1)" x="0" y="0" font-family="Liberation Serif" font-size="24" text-anchor="middle">22</text>
<text transform="translate(820 628) scale(1.17 1)" x="0" y="0" font-family="Liberation Serif" font-size="24" text-anchor="middle">23</text>
<text transform="translate(850 628) scale(1.17 1)" x="0" y="0" font-family="Liberation Serif" font-size="24" text-anchor="middle">24</text>
<text transform="translate(880 628) scale(1.17 1)" x="0" y="0" font-family="Liberation Serif" font-size="24" text-anchor="middle">25</text>
<text transform="translate(909 327.5) scale(1.17 1)" x="0" y="0" font-family="Liberation Serif" font-size="24" text-anchor="middle">26</text></g>
<g clip-path="url(#tc)" fill="none" stroke="#fff" stroke-width="0.35"><text style="stroke-width:0.6" x="185" y="150" font-family="Liberation Serif" font-size="32" text-anchor="start" textLength="98" lengthAdjust="spacingAndGlyphs">FRONT</text>
<text x="310" y="118" font-family="Liberation Serif" font-size="23" text-anchor="middle">A</text>
<text x="310" y="148" font-family="Liberation Serif" font-size="23" text-anchor="middle">B</text>
<text x="310" y="208" font-family="Liberation Serif" font-size="23" text-anchor="middle">C</text>
<text x="310" y="238" font-family="Liberation Serif" font-size="23" text-anchor="middle">D</text>
<text x="310" y="268" font-family="Liberation Serif" font-size="23" text-anchor="middle">E</text>
<text x="310" y="298" font-family="Liberation Serif" font-size="23" text-anchor="middle">F</text>
<text x="280" y="328" font-family="Liberation Serif" font-size="23" text-anchor="middle">G</text>
<text x="250" y="358" font-family="Liberation Serif" font-size="23" text-anchor="middle">H</text>
<text x="205" y="388" font-family="Liberation Serif" font-size="23" text-anchor="middle">J</text>
<text x="205" y="418" font-family="Liberation Serif" font-size="23" text-anchor="middle">K</text>
<text x="205" y="448" font-family="Liberation Serif" font-size="23" text-anchor="middle">L</text>
<text x="205" y="478" font-family="Liberation Serif" font-size="23" text-anchor="middle">M</text>
<text x="205" y="508" font-family="Liberation Serif" font-size="23" text-anchor="middle">N</text>
<text x="205" y="538" font-family="Liberation Serif" font-size="23" text-anchor="middle">O</text>
<text x="205" y="568" font-family="Liberation Serif" font-size="23" text-anchor="middle">P</text>
<text x="205" y="598" font-family="Liberation Serif" font-size="23" text-anchor="middle">Q</text>
<text x="205" y="628" font-family="Liberation Serif" font-size="23" text-anchor="middle">R</text>
<text x="205" y="658" font-family="Liberation Serif" font-size="23" text-anchor="middle">S</text>
<text x="205" y="688" font-family="Liberation Serif" font-size="23" text-anchor="middle">T</text>
<text transform="translate(160 178) scale(1.17 1)" x="0" y="0" font-family="Liberation Serif" font-size="24" text-anchor="middle">1</text>
<text transform="translate(190 178) scale(1.17 1)" x="0" y="0" font-family="Liberation Serif" font-size="24" text-anchor="middle">2</text>
<text transform="translate(220 178) scale(1.17 1)" x="0" y="0" font-family="Liberation Serif" font-size="24" text-anchor="middle">3</text>
<text transform="translate(250 178) scale(1.17 1)" x="0" y="0" font-family="Liberation Serif" font-size="24" text-anchor="middle">4</text>
<text transform="translate(280 178) scale(1.17 1)" x="0" y="0" font-family="Liberation Serif" font-size="24" text-anchor="middle">5</text>
<text transform="translate(310 178) scale(1.17 1)" x="0" y="0" font-family="Liberation Serif" font-size="24" text-anchor="middle">6</text>
<text transform="translate(340 178) scale(1.17 1)" x="0" y="0" font-family="Liberation Serif" font-size="24" text-anchor="middle">7</text>
<text transform="translate(370 178) scale(1.17 1)" x="0" y="0" font-family="Liberation Serif" font-size="24" text-anchor="middle">8</text>
<text transform="translate(400 178) scale(1.17 1)" x="0" y="0" font-family="Liberation Serif" font-size="24" text-anchor="middle">9</text>
<text transform="translate(430 178) scale(1.17 1)" x="0" y="0" font-family="Liberation Serif" font-size="24" text-anchor="middle">10</text>
<text transform="translate(460 178) scale(1.17 1)" x="0" y="0" font-family="Liberation Serif" font-size="24" text-anchor="middle">11</text>
<text transform="translate(490 178) scale(1.17 1)" x="0" y="0" font-family="Liberation Serif" font-size="24" text-anchor="middle">12</text>
<text transform="translate(520 178) scale(1.17 1)" x="0" y="0" font-family="Liberation Serif" font-size="24" text-anchor="middle">13</text>
<text transform="translate(550 178) scale(1.17 1)" x="0" y="0" font-family="Liberation Serif" font-size="24" text-anchor="middle">14</text>
<text transform="translate(580 178) scale(1.17 1)" x="0" y="0" font-family="Liberation Serif" font-size="24" text-anchor="middle">15</text>
<text transform="translate(610 178) scale(1.17 1)" x="0" y="0" font-family="Liberation Serif" font-size="24" text-anchor="middle">16</text>
<text transform="translate(640 178) scale(1.17 1)" x="0" y="0" font-family="Liberation Serif" font-size="24" text-anchor="middle">17</text>
<text transform="translate(670 178) scale(1.17 1)" x="0" y="0" font-family="Liberation Serif" font-size="24" text-anchor="middle">18</text>
<text transform="translate(700 178) scale(1.17 1)" x="0" y="0" font-family="Liberation Serif" font-size="24" text-anchor="middle">19</text>
<text transform="translate(730 178) scale(1.17 1)" x="0" y="0" font-family="Liberation Serif" font-size="24" text-anchor="middle">20</text>
<text transform="translate(760 178) scale(1.17 1)" x="0" y="0" font-family="Liberation Serif" font-size="24" text-anchor="middle">21</text>
<text transform="translate(790 178) scale(1.17 1)" x="0" y="0" font-family="Liberation Serif" font-size="24" text-anchor="middle">22</text>
<text transform="translate(820 178) scale(1.17 1)" x="0" y="0" font-family="Liberation Serif" font-size="24" text-anchor="middle">23</text>
<text transform="translate(850 178) scale(1.17 1)" x="0" y="0" font-family="Liberation Serif" font-size="24" text-anchor="middle">24</text>
<text transform="translate(880 178) scale(1.17 1)" x="0" y="0" font-family="Liberation Serif" font-size="24" text-anchor="middle">25</text>
<text transform="translate(460 628) scale(1.17 1)" x="0" y="0" font-family="Liberation Serif" font-size="24" text-anchor="middle">11</text>
<text transform="translate(490 628) scale(1.17 1)" x="0" y="0" font-family="Liberation Serif" font-size="24" text-anchor="middle">12</text>
<text transform="translate(520 628) scale(1.17 1)" x="0" y="0" font-family="Liberation Serif" font-size="24" text-anchor="middle">13</text>
<text transform="translate(550 628) scale(1.17 1)" x="0" y="0" font-family="Liberation Serif" font-size="24" text-anchor="middle">14</text>
<text transform="translate(580 628) scale(1.17 1)" x="0" y="0" font-family="Liberation Serif" font-size="24" text-anchor="middle">15</text>
<text transform="translate(610 628) scale(1.17 1)" x="0" y="0" font-family="Liberation Serif" font-size="24" text-anchor="middle">16</text>
<text transform="translate(640 628) scale(1.17 1)" x="0" y="0" font-family="Liberation Serif" font-size="24" text-anchor="middle">17</text>
<text transform="translate(670 628) scale(1.17 1)" x="0" y="0" font-family="Liberation Serif" font-size="24" text-anchor="middle">18</text>
<text transform="translate(700 628) scale(1.17 1)" x="0" y="0" font-family="Liberation Serif" font-size="24" text-anchor="middle">19</text>
<text transform="translate(730 628) scale(1.17 1)" x="0" y="0" font-family="Liberation Serif" font-size="24" text-anchor="middle">20</text>
<text transform="translate(760 628) scale(1.17 1)" x="0" y="0" font-family="Liberation Serif" font-size="24" text-anchor="middle">21</text>
<text transform="translate(790 628) scale(1.17 1)" x="0" y="0" font-family="Liberation Serif" font-size="24" text-anchor="middle">22</text>
<text transform="translate(820 628) scale(1.17 1)" x="0" y="0" font-family="Liberation Serif" font-size="24" text-anchor="middle">23</text>
<text transform="translate(850 628) scale(1.17 1)" x="0" y="0" font-family="Liberation Serif" font-size="24" text-anchor="middle">24</text>
<text transform="translate(880 628) scale(1.17 1)" x="0" y="0" font-family="Liberation Serif" font-size="24" text-anchor="middle">25</text>
<text transform="translate(909 327.5) scale(1.17 1)" x="0" y="0" font-family="Liberation Serif" font-size="24" text-anchor="middle">26</text></g>
</svg></body></html>
